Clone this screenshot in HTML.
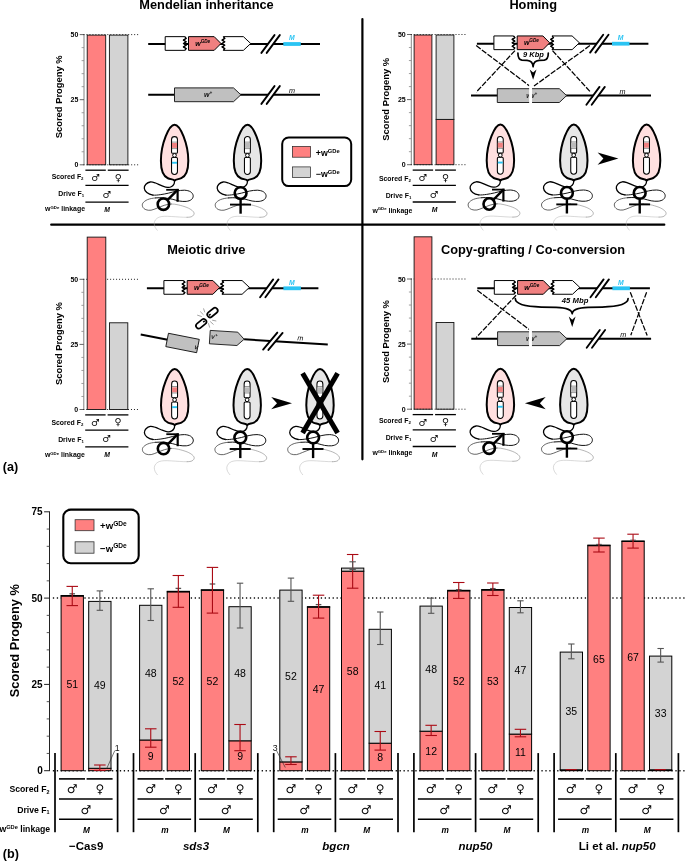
<!DOCTYPE html>
<html lang="en">
<head>
<meta charset="utf-8">
<title>Figure</title>
<style>html,body{margin:0;padding:0;background:#fff;}svg{display:block;will-change:transform;}</style>
</head>
<body>
<svg width="685" height="862" viewBox="0 0 685 862">
<rect x="0" y="0" width="685" height="862" fill="#fff"/>
<line x1="362.4" y1="19.1" x2="362.4" y2="459.3" stroke="#000" stroke-width="2.2" stroke-linecap="round" />
<line x1="51.2" y1="224.7" x2="664.3" y2="224.7" stroke="#000" stroke-width="2.2" stroke-linecap="round" />
<text x="206.5" y="9.3" font-family="'Liberation Sans', sans-serif" font-size="12.8" font-weight="bold" font-style="normal" text-anchor="middle" fill="#000" >Mendelian inheritance</text>
<text x="533.2" y="9.3" font-family="'Liberation Sans', sans-serif" font-size="12.8" font-weight="bold" font-style="normal" text-anchor="middle" fill="#000" >Homing</text>
<text x="206.3" y="254" font-family="'Liberation Sans', sans-serif" font-size="12.8" font-weight="bold" font-style="normal" text-anchor="middle" fill="#000" >Meiotic drive</text>
<text x="533" y="254" font-family="'Liberation Sans', sans-serif" font-size="12.8" font-weight="bold" font-style="normal" text-anchor="middle" fill="#000" >Copy-grafting / Co-conversion</text>
<text x="2.8" y="471" font-family="'Liberation Sans', sans-serif" font-size="12.6" font-weight="bold" font-style="normal" text-anchor="start" fill="#000" >(a)</text>
<text x="2.8" y="858.2" font-family="'Liberation Sans', sans-serif" font-size="12.6" font-weight="bold" font-style="normal" text-anchor="start" fill="#000" >(b)</text>
<line x1="84" y1="34.2" x2="84" y2="165.2" stroke="#777" stroke-width="0.9" stroke-linecap="butt" />
<line x1="79.7" y1="164.8" x2="84" y2="164.8" stroke="#555" stroke-width="0.9" stroke-linecap="butt" />
<line x1="81.6" y1="151.78" x2="84" y2="151.78" stroke="#888" stroke-width="0.8" stroke-linecap="butt" />
<line x1="81.6" y1="138.76" x2="84" y2="138.76" stroke="#888" stroke-width="0.8" stroke-linecap="butt" />
<line x1="81.6" y1="125.74" x2="84" y2="125.74" stroke="#888" stroke-width="0.8" stroke-linecap="butt" />
<line x1="81.6" y1="112.72" x2="84" y2="112.72" stroke="#888" stroke-width="0.8" stroke-linecap="butt" />
<line x1="79.7" y1="99.7" x2="84" y2="99.7" stroke="#555" stroke-width="0.9" stroke-linecap="butt" />
<line x1="81.6" y1="86.68" x2="84" y2="86.68" stroke="#888" stroke-width="0.8" stroke-linecap="butt" />
<line x1="81.6" y1="73.66" x2="84" y2="73.66" stroke="#888" stroke-width="0.8" stroke-linecap="butt" />
<line x1="81.6" y1="60.64" x2="84" y2="60.64" stroke="#888" stroke-width="0.8" stroke-linecap="butt" />
<line x1="81.6" y1="47.62" x2="84" y2="47.62" stroke="#888" stroke-width="0.8" stroke-linecap="butt" />
<line x1="79.7" y1="34.6" x2="84" y2="34.6" stroke="#555" stroke-width="0.9" stroke-linecap="butt" />
<text x="78.4" y="167.3" font-family="'Liberation Sans', sans-serif" font-size="7" font-weight="bold" font-style="normal" text-anchor="end" fill="#000" >0</text>
<text x="78.4" y="102.2" font-family="'Liberation Sans', sans-serif" font-size="7" font-weight="bold" font-style="normal" text-anchor="end" fill="#000" >25</text>
<text x="78.4" y="37.1" font-family="'Liberation Sans', sans-serif" font-size="7" font-weight="bold" font-style="normal" text-anchor="end" fill="#000" >50</text>
<text transform="translate(61.8,96.8) rotate(-90)" font-family="'Liberation Sans', sans-serif" font-size="9.4" font-weight="bold" text-anchor="middle">Scored Progeny %</text>
<line x1="83.5" y1="34.6" x2="138.4" y2="34.6" stroke="#222" stroke-width="1" stroke-linecap="butt" stroke-dasharray="1.0 1.98"/>
<rect x="87.2" y="35.12" width="18.5" height="129.68" fill="#FF8080" stroke="#111" stroke-width="0.9" />
<rect x="109.4" y="35.12" width="18.5" height="129.68" fill="#D3D3D3" stroke="#111" stroke-width="0.9" />
<line x1="83.5" y1="164.8" x2="138.4" y2="164.8" stroke="#222" stroke-width="1" stroke-linecap="butt" stroke-dasharray="1.0 1.98"/>
<line x1="85.4" y1="170.2" x2="105.8" y2="170.2" stroke="#000" stroke-width="1.3" stroke-linecap="butt" />
<line x1="107.8" y1="170.2" x2="128.6" y2="170.2" stroke="#000" stroke-width="1.3" stroke-linecap="butt" />
<line x1="85.4" y1="185.4" x2="128.6" y2="185.4" stroke="#000" stroke-width="1.3" stroke-linecap="butt" />
<line x1="85.4" y1="202.1" x2="128.6" y2="202.1" stroke="#000" stroke-width="1.3" stroke-linecap="butt" />
<text x="83.5" y="179.1" font-family="'Liberation Sans', sans-serif" font-size="6.9" font-weight="bold" text-anchor="end">Scored F<tspan font-size="4.3" dy="1.1">2</tspan></text>
<text x="84.1" y="195.6" font-family="'Liberation Sans', sans-serif" font-size="6.9" font-weight="bold" text-anchor="end">Drive F<tspan font-size="4.3" dy="1.1">1</tspan></text>
<text x="85" y="211.2" font-family="'Liberation Sans', sans-serif" font-size="6.9" font-weight="bold" text-anchor="end">w<tspan font-size="4.3" dy="-2.7">GDe</tspan><tspan dy="2.7"> linkage</tspan></text>
<text x="95.5" y="181.1" font-family="'DejaVu Sans', 'Liberation Sans', sans-serif" font-size="9.6" font-weight="normal" font-style="normal" text-anchor="middle" fill="#000" >♂</text>
<text x="118.2" y="180.7" font-family="'DejaVu Sans', 'Liberation Sans', sans-serif" font-size="9.6" font-weight="normal" font-style="normal" text-anchor="middle" fill="#000" >♀</text>
<text x="106.8" y="197.6" font-family="'DejaVu Sans', 'Liberation Sans', sans-serif" font-size="9.6" font-weight="normal" font-style="normal" text-anchor="middle" fill="#000" >♂</text>
<text x="107.2" y="212.4" font-family="'Liberation Sans', sans-serif" font-size="6.8" font-weight="bold" font-style="italic" text-anchor="middle" fill="#000" >M</text>
<line x1="411.3" y1="34.1" x2="411.3" y2="165.1" stroke="#777" stroke-width="0.9" stroke-linecap="butt" />
<line x1="407" y1="164.7" x2="411.3" y2="164.7" stroke="#555" stroke-width="0.9" stroke-linecap="butt" />
<line x1="408.9" y1="151.68" x2="411.3" y2="151.68" stroke="#888" stroke-width="0.8" stroke-linecap="butt" />
<line x1="408.9" y1="138.66" x2="411.3" y2="138.66" stroke="#888" stroke-width="0.8" stroke-linecap="butt" />
<line x1="408.9" y1="125.64" x2="411.3" y2="125.64" stroke="#888" stroke-width="0.8" stroke-linecap="butt" />
<line x1="408.9" y1="112.62" x2="411.3" y2="112.62" stroke="#888" stroke-width="0.8" stroke-linecap="butt" />
<line x1="407" y1="99.6" x2="411.3" y2="99.6" stroke="#555" stroke-width="0.9" stroke-linecap="butt" />
<line x1="408.9" y1="86.58" x2="411.3" y2="86.58" stroke="#888" stroke-width="0.8" stroke-linecap="butt" />
<line x1="408.9" y1="73.56" x2="411.3" y2="73.56" stroke="#888" stroke-width="0.8" stroke-linecap="butt" />
<line x1="408.9" y1="60.54" x2="411.3" y2="60.54" stroke="#888" stroke-width="0.8" stroke-linecap="butt" />
<line x1="408.9" y1="47.52" x2="411.3" y2="47.52" stroke="#888" stroke-width="0.8" stroke-linecap="butt" />
<line x1="407" y1="34.5" x2="411.3" y2="34.5" stroke="#555" stroke-width="0.9" stroke-linecap="butt" />
<text x="405.7" y="167.2" font-family="'Liberation Sans', sans-serif" font-size="7" font-weight="bold" font-style="normal" text-anchor="end" fill="#000" >0</text>
<text x="405.7" y="102.1" font-family="'Liberation Sans', sans-serif" font-size="7" font-weight="bold" font-style="normal" text-anchor="end" fill="#000" >25</text>
<text x="405.7" y="37" font-family="'Liberation Sans', sans-serif" font-size="7" font-weight="bold" font-style="normal" text-anchor="end" fill="#000" >50</text>
<text transform="translate(388.7,99.3) rotate(-90)" font-family="'Liberation Sans', sans-serif" font-size="9.4" font-weight="bold" text-anchor="middle">Scored Progeny %</text>
<line x1="410.8" y1="34.5" x2="465.7" y2="34.5" stroke="#222" stroke-width="1" stroke-linecap="butt" stroke-dasharray="1.0 1.98"/>
<rect x="414.1" y="35.02" width="17.8" height="129.68" fill="#FF8080" stroke="#111" stroke-width="0.9" />
<rect x="436.1" y="119.39" width="17.8" height="45.31" fill="#FF8080" stroke="#111" stroke-width="0.9" />
<rect x="436.1" y="35.02" width="17.8" height="84.37" fill="#D3D3D3" stroke="#111" stroke-width="0.9" />
<line x1="410.8" y1="164.7" x2="465.7" y2="164.7" stroke="#222" stroke-width="1" stroke-linecap="butt" stroke-dasharray="1.0 1.98"/>
<line x1="412.7" y1="170.1" x2="433.1" y2="170.1" stroke="#000" stroke-width="1.3" stroke-linecap="butt" />
<line x1="435.1" y1="170.1" x2="455.9" y2="170.1" stroke="#000" stroke-width="1.3" stroke-linecap="butt" />
<line x1="412.7" y1="185.3" x2="455.9" y2="185.3" stroke="#000" stroke-width="1.3" stroke-linecap="butt" />
<line x1="412.7" y1="202" x2="455.9" y2="202" stroke="#000" stroke-width="1.3" stroke-linecap="butt" />
<text x="410.8" y="181" font-family="'Liberation Sans', sans-serif" font-size="6.9" font-weight="bold" text-anchor="end">Scored F<tspan font-size="4.3" dy="1.1">2</tspan></text>
<text x="411.4" y="197.5" font-family="'Liberation Sans', sans-serif" font-size="6.9" font-weight="bold" text-anchor="end">Drive F<tspan font-size="4.3" dy="1.1">1</tspan></text>
<text x="412.3" y="213.1" font-family="'Liberation Sans', sans-serif" font-size="6.9" font-weight="bold" text-anchor="end">w<tspan font-size="4.3" dy="-2.7">GDe</tspan><tspan dy="2.7"> linkage</tspan></text>
<text x="422.8" y="181" font-family="'DejaVu Sans', 'Liberation Sans', sans-serif" font-size="9.6" font-weight="normal" font-style="normal" text-anchor="middle" fill="#000" >♂</text>
<text x="445.5" y="180.6" font-family="'DejaVu Sans', 'Liberation Sans', sans-serif" font-size="9.6" font-weight="normal" font-style="normal" text-anchor="middle" fill="#000" >♀</text>
<text x="434.1" y="197.5" font-family="'DejaVu Sans', 'Liberation Sans', sans-serif" font-size="9.6" font-weight="normal" font-style="normal" text-anchor="middle" fill="#000" >♂</text>
<text x="434.5" y="212.3" font-family="'Liberation Sans', sans-serif" font-size="6.8" font-weight="bold" font-style="italic" text-anchor="middle" fill="#000" >M</text>
<line x1="83.8" y1="278.9" x2="83.8" y2="409.9" stroke="#777" stroke-width="0.9" stroke-linecap="butt" />
<line x1="79.5" y1="409.5" x2="83.8" y2="409.5" stroke="#555" stroke-width="0.9" stroke-linecap="butt" />
<line x1="81.4" y1="396.48" x2="83.8" y2="396.48" stroke="#888" stroke-width="0.8" stroke-linecap="butt" />
<line x1="81.4" y1="383.46" x2="83.8" y2="383.46" stroke="#888" stroke-width="0.8" stroke-linecap="butt" />
<line x1="81.4" y1="370.44" x2="83.8" y2="370.44" stroke="#888" stroke-width="0.8" stroke-linecap="butt" />
<line x1="81.4" y1="357.42" x2="83.8" y2="357.42" stroke="#888" stroke-width="0.8" stroke-linecap="butt" />
<line x1="79.5" y1="344.4" x2="83.8" y2="344.4" stroke="#555" stroke-width="0.9" stroke-linecap="butt" />
<line x1="81.4" y1="331.38" x2="83.8" y2="331.38" stroke="#888" stroke-width="0.8" stroke-linecap="butt" />
<line x1="81.4" y1="318.36" x2="83.8" y2="318.36" stroke="#888" stroke-width="0.8" stroke-linecap="butt" />
<line x1="81.4" y1="305.34" x2="83.8" y2="305.34" stroke="#888" stroke-width="0.8" stroke-linecap="butt" />
<line x1="81.4" y1="292.32" x2="83.8" y2="292.32" stroke="#888" stroke-width="0.8" stroke-linecap="butt" />
<line x1="79.5" y1="279.3" x2="83.8" y2="279.3" stroke="#555" stroke-width="0.9" stroke-linecap="butt" />
<text x="78.2" y="412" font-family="'Liberation Sans', sans-serif" font-size="7" font-weight="bold" font-style="normal" text-anchor="end" fill="#000" >0</text>
<text x="78.2" y="346.9" font-family="'Liberation Sans', sans-serif" font-size="7" font-weight="bold" font-style="normal" text-anchor="end" fill="#000" >25</text>
<text x="78.2" y="281.8" font-family="'Liberation Sans', sans-serif" font-size="7" font-weight="bold" font-style="normal" text-anchor="end" fill="#000" >50</text>
<text transform="translate(62,343.6) rotate(-90)" font-family="'Liberation Sans', sans-serif" font-size="9.4" font-weight="bold" text-anchor="middle">Scored Progeny %</text>
<line x1="83.3" y1="279.3" x2="138.2" y2="279.3" stroke="#222" stroke-width="1" stroke-linecap="butt" stroke-dasharray="1.0 1.98"/>
<rect x="87.2" y="237.12" width="18.6" height="172.38" fill="#FF8080" stroke="#111" stroke-width="0.9" />
<rect x="109.5" y="322.79" width="18.3" height="86.71" fill="#D3D3D3" stroke="#111" stroke-width="0.9" />
<line x1="83.3" y1="409.5" x2="138.2" y2="409.5" stroke="#222" stroke-width="1" stroke-linecap="butt" stroke-dasharray="1.0 1.98"/>
<line x1="85.2" y1="414.9" x2="105.6" y2="414.9" stroke="#000" stroke-width="1.3" stroke-linecap="butt" />
<line x1="107.6" y1="414.9" x2="128.4" y2="414.9" stroke="#000" stroke-width="1.3" stroke-linecap="butt" />
<line x1="85.2" y1="430.1" x2="128.4" y2="430.1" stroke="#000" stroke-width="1.3" stroke-linecap="butt" />
<line x1="85.2" y1="446.8" x2="128.4" y2="446.8" stroke="#000" stroke-width="1.3" stroke-linecap="butt" />
<text x="83.3" y="425.2" font-family="'Liberation Sans', sans-serif" font-size="6.9" font-weight="bold" text-anchor="end">Scored F<tspan font-size="4.3" dy="1.1">2</tspan></text>
<text x="83.9" y="441.7" font-family="'Liberation Sans', sans-serif" font-size="6.9" font-weight="bold" text-anchor="end">Drive F<tspan font-size="4.3" dy="1.1">1</tspan></text>
<text x="84.8" y="457.3" font-family="'Liberation Sans', sans-serif" font-size="6.9" font-weight="bold" text-anchor="end">w<tspan font-size="4.3" dy="-2.7">GDe</tspan><tspan dy="2.7"> linkage</tspan></text>
<text x="95.3" y="425.8" font-family="'DejaVu Sans', 'Liberation Sans', sans-serif" font-size="9.6" font-weight="normal" font-style="normal" text-anchor="middle" fill="#000" >♂</text>
<text x="118" y="425.4" font-family="'DejaVu Sans', 'Liberation Sans', sans-serif" font-size="9.6" font-weight="normal" font-style="normal" text-anchor="middle" fill="#000" >♀</text>
<text x="106.6" y="442.3" font-family="'DejaVu Sans', 'Liberation Sans', sans-serif" font-size="9.6" font-weight="normal" font-style="normal" text-anchor="middle" fill="#000" >♂</text>
<text x="107" y="457.1" font-family="'Liberation Sans', sans-serif" font-size="6.8" font-weight="bold" font-style="italic" text-anchor="middle" fill="#000" >M</text>
<line x1="411.3" y1="278.6" x2="411.3" y2="409.6" stroke="#777" stroke-width="0.9" stroke-linecap="butt" />
<line x1="407" y1="409.2" x2="411.3" y2="409.2" stroke="#555" stroke-width="0.9" stroke-linecap="butt" />
<line x1="408.9" y1="396.18" x2="411.3" y2="396.18" stroke="#888" stroke-width="0.8" stroke-linecap="butt" />
<line x1="408.9" y1="383.16" x2="411.3" y2="383.16" stroke="#888" stroke-width="0.8" stroke-linecap="butt" />
<line x1="408.9" y1="370.14" x2="411.3" y2="370.14" stroke="#888" stroke-width="0.8" stroke-linecap="butt" />
<line x1="408.9" y1="357.12" x2="411.3" y2="357.12" stroke="#888" stroke-width="0.8" stroke-linecap="butt" />
<line x1="407" y1="344.1" x2="411.3" y2="344.1" stroke="#555" stroke-width="0.9" stroke-linecap="butt" />
<line x1="408.9" y1="331.08" x2="411.3" y2="331.08" stroke="#888" stroke-width="0.8" stroke-linecap="butt" />
<line x1="408.9" y1="318.06" x2="411.3" y2="318.06" stroke="#888" stroke-width="0.8" stroke-linecap="butt" />
<line x1="408.9" y1="305.04" x2="411.3" y2="305.04" stroke="#888" stroke-width="0.8" stroke-linecap="butt" />
<line x1="408.9" y1="292.02" x2="411.3" y2="292.02" stroke="#888" stroke-width="0.8" stroke-linecap="butt" />
<line x1="407" y1="279" x2="411.3" y2="279" stroke="#555" stroke-width="0.9" stroke-linecap="butt" />
<text x="405.7" y="411.7" font-family="'Liberation Sans', sans-serif" font-size="7" font-weight="bold" font-style="normal" text-anchor="end" fill="#000" >0</text>
<text x="405.7" y="346.6" font-family="'Liberation Sans', sans-serif" font-size="7" font-weight="bold" font-style="normal" text-anchor="end" fill="#000" >25</text>
<text x="405.7" y="281.5" font-family="'Liberation Sans', sans-serif" font-size="7" font-weight="bold" font-style="normal" text-anchor="end" fill="#000" >50</text>
<text transform="translate(388.5,341.5) rotate(-90)" font-family="'Liberation Sans', sans-serif" font-size="9.4" font-weight="bold" text-anchor="middle">Scored Progeny %</text>
<line x1="410.8" y1="279" x2="465.7" y2="279" stroke="#222" stroke-width="1" stroke-linecap="butt" stroke-dasharray="1.0 1.98"/>
<rect x="414.1" y="236.82" width="17.8" height="172.38" fill="#FF8080" stroke="#111" stroke-width="0.9" />
<rect x="436.1" y="322.49" width="17.8" height="86.71" fill="#D3D3D3" stroke="#111" stroke-width="0.9" />
<line x1="410.8" y1="409.2" x2="465.7" y2="409.2" stroke="#222" stroke-width="1" stroke-linecap="butt" stroke-dasharray="1.0 1.98"/>
<line x1="412.7" y1="414.6" x2="433.1" y2="414.6" stroke="#000" stroke-width="1.3" stroke-linecap="butt" />
<line x1="435.1" y1="414.6" x2="455.9" y2="414.6" stroke="#000" stroke-width="1.3" stroke-linecap="butt" />
<line x1="412.7" y1="429.8" x2="455.9" y2="429.8" stroke="#000" stroke-width="1.3" stroke-linecap="butt" />
<line x1="412.7" y1="446.5" x2="455.9" y2="446.5" stroke="#000" stroke-width="1.3" stroke-linecap="butt" />
<text x="410.8" y="423.1" font-family="'Liberation Sans', sans-serif" font-size="6.9" font-weight="bold" text-anchor="end">Scored F<tspan font-size="4.3" dy="1.1">2</tspan></text>
<text x="411.4" y="439.6" font-family="'Liberation Sans', sans-serif" font-size="6.9" font-weight="bold" text-anchor="end">Drive F<tspan font-size="4.3" dy="1.1">1</tspan></text>
<text x="412.3" y="455.2" font-family="'Liberation Sans', sans-serif" font-size="6.9" font-weight="bold" text-anchor="end">w<tspan font-size="4.3" dy="-2.7">GDe</tspan><tspan dy="2.7"> linkage</tspan></text>
<text x="422.8" y="425.5" font-family="'DejaVu Sans', 'Liberation Sans', sans-serif" font-size="9.6" font-weight="normal" font-style="normal" text-anchor="middle" fill="#000" >♂</text>
<text x="445.5" y="425.1" font-family="'DejaVu Sans', 'Liberation Sans', sans-serif" font-size="9.6" font-weight="normal" font-style="normal" text-anchor="middle" fill="#000" >♀</text>
<text x="434.1" y="442" font-family="'DejaVu Sans', 'Liberation Sans', sans-serif" font-size="9.6" font-weight="normal" font-style="normal" text-anchor="middle" fill="#000" >♂</text>
<text x="434.5" y="456.8" font-family="'Liberation Sans', sans-serif" font-size="6.8" font-weight="bold" font-style="italic" text-anchor="middle" fill="#000" >M</text>
<line x1="148.2" y1="44" x2="320" y2="44" stroke="#000" stroke-width="2" stroke-linecap="butt" />
<path d="M165.2,36.65 L184.8,36.65 L186.2,38.36 L183.4,40.08 L186.2,41.79 L183.4,43.5 L186.2,45.21 L183.4,46.92 L186.2,48.64 L184.8,50.35 L165.2,50.35 Z" fill="#fff" stroke="#000" stroke-width="1" stroke-linejoin="miter"/>
<path d="M184.8,36.65 L186.2,38.36 L183.4,40.08 L186.2,41.79 L183.4,43.5 L186.2,45.21 L183.4,46.92 L186.2,48.64 L184.8,50.35" fill="none" stroke="#000" stroke-width="1.3" stroke-linejoin="round"/>
<path d="M188.5,36.65 L214.2,36.65 L221,43.5 L214.2,50.35 L188.5,50.35 Z" fill="#F08080" stroke="#000" stroke-width="1" />
<path d="M243.4,36.65 L250.7,43.5 L243.4,50.35 L223.4,50.35 L224.8,48.64 L222,46.92 L224.8,45.21 L222,43.5 L224.8,41.79 L222,40.08 L224.8,38.36 L223.4,36.65 Z" fill="#fff" stroke="#000" stroke-width="1" />
<path d="M223.4,50.35 L224.8,48.64 L222,46.92 L224.8,45.21 L222,43.5 L224.8,41.79 L222,40.08 L224.8,38.36 L223.4,36.65" fill="none" stroke="#000" stroke-width="1.3" stroke-linejoin="round"/>
<text x="195.2" y="45.7" font-family="'Liberation Sans', sans-serif" font-size="7" font-weight="bold" font-style="italic" text-anchor="start" fill="#000">w<tspan font-size="4.62" dy="-2.94">GDe</tspan></text>
<polygon points="261.4,52.9 274.5,35.1 279.8,35.1 266.7,52.9" fill="#fff"/>
<line x1="261.4" y1="52.9" x2="274.5" y2="35.1" stroke="#000" stroke-width="1.9" stroke-linecap="round" />
<line x1="266.7" y1="52.9" x2="279.8" y2="35.1" stroke="#000" stroke-width="1.9" stroke-linecap="round" />
<line x1="283.3" y1="44" x2="300.8" y2="44" stroke="#2BC4F3" stroke-width="3.8" stroke-linecap="butt" />
<text x="291.8" y="40.4" font-family="'Liberation Sans', sans-serif" font-size="6.8" font-weight="bold" font-style="italic" text-anchor="middle" fill="#2BC4F3" >M</text>
<line x1="148.2" y1="94.8" x2="320" y2="94.8" stroke="#000" stroke-width="2" stroke-linecap="butt" />
<path d="M174.5,87.9 L233.5,87.9 L240.9,94.8 L233.5,101.7 L174.5,101.7 Z" fill="#C0C0C0" stroke="#222" stroke-width="1" />
<text x="204.1" y="97.1" font-family="'Liberation Sans', sans-serif" font-size="7" font-weight="bold" font-style="italic" text-anchor="start" fill="#111">w<tspan font-size="4.6" dy="-2.8">+</tspan></text>
<polygon points="261.4,103.9 274.5,86.1 279.8,86.1 266.7,103.9" fill="#fff"/>
<line x1="261.4" y1="103.9" x2="274.5" y2="86.1" stroke="#000" stroke-width="1.9" stroke-linecap="round" />
<line x1="266.7" y1="103.9" x2="279.8" y2="86.1" stroke="#000" stroke-width="1.9" stroke-linecap="round" />
<text x="292" y="92.8" font-family="'Liberation Sans', sans-serif" font-size="7.2" font-weight="normal" font-style="italic" text-anchor="middle" fill="#000" >m</text>
<path d="M174.6,180.9 C174.5,181.42 174.48,183.07 174,184 C173.52,184.93 172.73,185.93 171.7,186.5 C170.67,187.07 169.48,187.55 167.8,187.4 C166.12,187.25 163.65,186.33 161.6,185.6 C159.55,184.87 157.38,183.6 155.5,183 C153.62,182.4 151.9,181.78 150.3,182 C148.7,182.22 146.9,183.25 145.9,184.3 C144.9,185.35 144.15,186.92 144.3,188.3 C144.45,189.68 145.37,191.47 146.8,192.6 C148.23,193.73 150.57,194.77 152.9,195.1" fill="none" stroke="#000" stroke-width="1.3" stroke-linecap="round"/>
<path d="M152.9,195.1 C155.23,195.43 158.17,194.93 160.8,194.6 C163.43,194.27 166.08,193.68 168.7,193.1 C171.32,192.52 173.88,191.58 176.5,191.1 C179.12,190.62 182.05,190.08 184.4,190.2 C186.75,190.32 189.13,190.88 190.6,191.8 C192.07,192.72 193.07,194.4 193.2,195.7 C193.33,197 192.57,198.65 191.4,199.6 C190.23,200.55 188.23,201.17 186.2,201.4 C184.17,201.63 181.53,201.37 179.2,201 C176.87,200.63 174.68,199.72 172.2,199.2 C169.72,198.68 167.08,198.12 164.3,197.9 C161.52,197.68 158.28,197.62 155.5,197.9" fill="none" stroke="#111" stroke-width="1" stroke-linecap="round"/>
<path d="M155.5,197.9 C152.72,198.18 149.72,198.72 147.6,199.6 C145.48,200.48 143.6,201.95 142.8,203.2 C142,204.45 142.28,206.02 142.8,207.1 C143.32,208.18 144.52,209.18 145.9,209.7 C147.28,210.22 149.2,210.48 151.1,210.2 C153,209.92 155.1,208.82 157.3,208 C159.5,207.18 161.97,205.97 164.3,205.3 C166.63,204.63 168.97,204.07 171.3,204" fill="none" stroke="#333" stroke-width="0.75" stroke-linecap="round"/>
<path d="M171.3,204 C173.63,203.93 175.68,204.32 178.3,204.9 C180.92,205.48 184.67,206.55 187,207.5 C189.33,208.45 191.12,209.57 192.3,210.6 C193.48,211.63 194.17,212.72 194.1,213.7 C194.03,214.68 193.08,215.9 191.9,216.5 C190.72,217.1 189.12,217.22 187,217.3" fill="none" stroke="#777" stroke-width="0.55" stroke-linecap="round"/>
<path d="M187,217.3 C184.88,217.38 181.82,217.13 179.2,217 C176.58,216.87 173.78,216.62 171.3,216.5 C168.82,216.38 166.35,216.18 164.3,216.3 C162.25,216.42 160.47,216.62 159,217.2 C157.53,217.78 156.3,218.78 155.5,219.8 C154.7,220.82 154.27,222.07 154.2,223.3 C154.13,224.53 154.58,226.03 155.1,227.2 C155.62,228.37 156.93,229.78 157.3,230.3" fill="none" stroke="#aaa" stroke-width="0.45" stroke-linecap="round"/>
<path d="M174.6,124.7 C180.19,124.7 188.3,143.94 188.3,160.78 C188.3,169.92 186.72,175.89 181.31,178.2 C178.51,179.35 175.9,179.16 174.6,180.7 C173.3,179.16 170.69,179.35 167.89,178.2 C162.48,175.89 160.9,169.92 160.9,160.78 C160.9,143.94 169.01,124.7 174.6,124.7 Z" fill="#FFE0E0" stroke="#000" stroke-width="2" stroke-linejoin="round"/>
<path d="M171.55,139.55 A2.95,2.95 0 0 1 177.45,139.55 L177.45,152.2 Q177.45,153.3 176.35,153.3 L172.65,153.3 Q171.55,153.3 171.55,152.2 Z" fill="#fff" stroke="#000" stroke-width="1.05" />
<path d="M171.55,171.55 A2.95,2.95 0 0 0 177.45,171.55 L177.45,158.6 Q177.45,157.5 176.35,157.5 L172.65,157.5 Q171.55,157.5 171.55,158.6 Z" fill="#fff" stroke="#000" stroke-width="1.05" />
<circle cx="174.5" cy="155.4" r="1.85" fill="#fff" stroke="#000" stroke-width="1.0"/>
<rect x="172" y="142.9" width="5" height="5" fill="#F08080"/>
<rect x="172" y="161.8" width="5" height="1.9" fill="#2BC4F3"/>
<line x1="171.95" y1="142.1" x2="177.05" y2="142.1" stroke="#333" stroke-width="0.5" stroke-linecap="butt" />
<line x1="171.95" y1="148.6" x2="177.05" y2="148.6" stroke="#333" stroke-width="0.5" stroke-linecap="butt" />
<circle cx="163.4" cy="204.2" r="5.7" fill="none" stroke="#000" stroke-width="2.6"/>
<line x1="167.4" y1="200.2" x2="177.1" y2="190.3" stroke="#000" stroke-width="2.4" stroke-linecap="butt" />
<line x1="166.2" y1="189.8" x2="178.7" y2="189.8" stroke="#000" stroke-width="1.8" stroke-linecap="butt" />
<line x1="177.6" y1="188.9" x2="177.6" y2="201.8" stroke="#000" stroke-width="2.2" stroke-linecap="butt" />
<path d="M247.5,180.9 C247.4,181.42 247.38,183.07 246.9,184 C246.42,184.93 245.63,185.93 244.6,186.5 C243.57,187.07 242.38,187.55 240.7,187.4 C239.02,187.25 236.55,186.33 234.5,185.6 C232.45,184.87 230.28,183.6 228.4,183 C226.52,182.4 224.8,181.78 223.2,182 C221.6,182.22 219.8,183.25 218.8,184.3 C217.8,185.35 217.05,186.92 217.2,188.3 C217.35,189.68 218.27,191.47 219.7,192.6 C221.13,193.73 223.47,194.77 225.8,195.1" fill="none" stroke="#000" stroke-width="1.3" stroke-linecap="round"/>
<path d="M225.8,195.1 C228.13,195.43 231.07,194.93 233.7,194.6 C236.33,194.27 238.98,193.68 241.6,193.1 C244.22,192.52 246.78,191.58 249.4,191.1 C252.02,190.62 254.95,190.08 257.3,190.2 C259.65,190.32 262.03,190.88 263.5,191.8 C264.97,192.72 265.97,194.4 266.1,195.7 C266.23,197 265.47,198.65 264.3,199.6 C263.13,200.55 261.13,201.17 259.1,201.4 C257.07,201.63 254.43,201.37 252.1,201 C249.77,200.63 247.58,199.72 245.1,199.2 C242.62,198.68 239.98,198.12 237.2,197.9 C234.42,197.68 231.18,197.62 228.4,197.9" fill="none" stroke="#111" stroke-width="1" stroke-linecap="round"/>
<path d="M228.4,197.9 C225.62,198.18 222.62,198.72 220.5,199.6 C218.38,200.48 216.5,201.95 215.7,203.2 C214.9,204.45 215.18,206.02 215.7,207.1 C216.22,208.18 217.42,209.18 218.8,209.7 C220.18,210.22 222.1,210.48 224,210.2 C225.9,209.92 228,208.82 230.2,208 C232.4,207.18 234.87,205.97 237.2,205.3 C239.53,204.63 241.87,204.07 244.2,204" fill="none" stroke="#333" stroke-width="0.75" stroke-linecap="round"/>
<path d="M244.2,204 C246.53,203.93 248.58,204.32 251.2,204.9 C253.82,205.48 257.57,206.55 259.9,207.5 C262.23,208.45 264.02,209.57 265.2,210.6 C266.38,211.63 267.07,212.72 267,213.7 C266.93,214.68 265.98,215.9 264.8,216.5 C263.62,217.1 262.02,217.22 259.9,217.3" fill="none" stroke="#777" stroke-width="0.55" stroke-linecap="round"/>
<path d="M259.9,217.3 C257.78,217.38 254.72,217.13 252.1,217 C249.48,216.87 246.68,216.62 244.2,216.5 C241.72,216.38 239.25,216.18 237.2,216.3 C235.15,216.42 233.37,216.62 231.9,217.2 C230.43,217.78 229.2,218.78 228.4,219.8 C227.6,220.82 227.17,222.07 227.1,223.3 C227.03,224.53 227.48,226.03 228,227.2 C228.52,228.37 229.83,229.78 230.2,230.3" fill="none" stroke="#aaa" stroke-width="0.45" stroke-linecap="round"/>
<path d="M247.5,124.7 C253.09,124.7 261.2,143.94 261.2,160.78 C261.2,169.92 259.62,175.89 254.21,178.2 C251.41,179.35 248.8,179.16 247.5,180.7 C246.2,179.16 243.59,179.35 240.79,178.2 C235.38,175.89 233.8,169.92 233.8,160.78 C233.8,143.94 241.91,124.7 247.5,124.7 Z" fill="#E6E6E6" stroke="#000" stroke-width="2" stroke-linejoin="round"/>
<path d="M244.45,139.55 A2.95,2.95 0 0 1 250.35,139.55 L250.35,152.2 Q250.35,153.3 249.25,153.3 L245.55,153.3 Q244.45,153.3 244.45,152.2 Z" fill="#fff" stroke="#000" stroke-width="1.05" />
<path d="M244.45,171.55 A2.95,2.95 0 0 0 250.35,171.55 L250.35,158.6 Q250.35,157.5 249.25,157.5 L245.55,157.5 Q244.45,157.5 244.45,158.6 Z" fill="#fff" stroke="#000" stroke-width="1.05" />
<circle cx="247.4" cy="155.4" r="1.85" fill="#fff" stroke="#000" stroke-width="1.0"/>
<rect x="244.9" y="142.9" width="5" height="5" fill="#BBBBBB"/>
<line x1="244.85" y1="142.1" x2="249.95" y2="142.1" stroke="#333" stroke-width="0.5" stroke-linecap="butt" />
<line x1="244.85" y1="148.6" x2="249.95" y2="148.6" stroke="#333" stroke-width="0.5" stroke-linecap="butt" />
<circle cx="240.6" cy="193.1" r="5.9" fill="none" stroke="#000" stroke-width="2.6"/>
<line x1="240.6" y1="199.1" x2="240.6" y2="213.7" stroke="#000" stroke-width="2.4" stroke-linecap="butt" />
<line x1="230" y1="204.6" x2="251" y2="204.6" stroke="#000" stroke-width="1.9" stroke-linecap="butt" />
<rect x="282.2" y="137.5" width="69" height="48.6" rx="6.5" ry="6.5" fill="#fff" stroke="#000" stroke-width="2"/>
<rect x="292.4" y="146.4" width="18.2" height="10.8" fill="#FF8080" stroke="#222" stroke-width="0.7" />
<rect x="292.4" y="166.9" width="18.2" height="10.6" fill="#D3D3D3" stroke="#222" stroke-width="0.7" />
<text x="315.8" y="156" font-family="'Liberation Sans', sans-serif" font-size="8.8" font-weight="bold" font-style="normal" text-anchor="start" fill="#000">+w<tspan font-size="5.81" dy="-3.3">GDe</tspan></text>
<text x="315.8" y="176.8" font-family="'Liberation Sans', sans-serif" font-size="8.8" font-weight="bold" font-style="normal" text-anchor="start" fill="#000">−w<tspan font-size="5.81" dy="-3.3">GDe</tspan></text>
<line x1="476.2" y1="45.6" x2="529.6" y2="86" stroke="#000" stroke-width="1.25" stroke-linecap="butt" stroke-dasharray="5.6 1.5"/>
<line x1="515" y1="50.6" x2="476.2" y2="92.2" stroke="#000" stroke-width="1.25" stroke-linecap="butt" stroke-dasharray="5.6 1.5"/>
<line x1="552.5" y1="50.6" x2="590.7" y2="92.2" stroke="#000" stroke-width="1.25" stroke-linecap="butt" stroke-dasharray="5.6 1.5"/>
<line x1="589.9" y1="45.6" x2="534" y2="86" stroke="#000" stroke-width="1.25" stroke-linecap="butt" stroke-dasharray="5.6 1.5"/>
<line x1="476.9" y1="43.7" x2="648.4" y2="43.7" stroke="#000" stroke-width="2" stroke-linecap="butt" />
<path d="M493.9,35.95 L513.5,35.95 L514.9,37.66 L512.1,39.38 L514.9,41.09 L512.1,42.8 L514.9,44.51 L512.1,46.23 L514.9,47.94 L513.5,49.65 L493.9,49.65 Z" fill="#fff" stroke="#000" stroke-width="1" stroke-linejoin="miter"/>
<path d="M513.5,35.95 L514.9,37.66 L512.1,39.38 L514.9,41.09 L512.1,42.8 L514.9,44.51 L512.1,46.23 L514.9,47.94 L513.5,49.65" fill="none" stroke="#000" stroke-width="1.3" stroke-linejoin="round"/>
<path d="M517.2,35.95 L542.9,35.95 L549.7,42.8 L542.9,49.65 L517.2,49.65 Z" fill="#F08080" stroke="#000" stroke-width="1" />
<path d="M572.1,35.95 L579.4,42.8 L572.1,49.65 L552.1,49.65 L553.5,47.94 L550.7,46.23 L553.5,44.51 L550.7,42.8 L553.5,41.09 L550.7,39.38 L553.5,37.66 L552.1,35.95 Z" fill="#fff" stroke="#000" stroke-width="1" />
<path d="M552.1,49.65 L553.5,47.94 L550.7,46.23 L553.5,44.51 L550.7,42.8 L553.5,41.09 L550.7,39.38 L553.5,37.66 L552.1,35.95" fill="none" stroke="#000" stroke-width="1.3" stroke-linejoin="round"/>
<text x="523.9" y="45" font-family="'Liberation Sans', sans-serif" font-size="7" font-weight="bold" font-style="italic" text-anchor="start" fill="#000">w<tspan font-size="4.62" dy="-2.94">GDe</tspan></text>
<polygon points="590.1,52.6 603.2,34.8 608.5,34.8 595.4,52.6" fill="#fff"/>
<line x1="590.1" y1="52.6" x2="603.2" y2="34.8" stroke="#000" stroke-width="1.9" stroke-linecap="round" />
<line x1="595.4" y1="52.6" x2="608.5" y2="34.8" stroke="#000" stroke-width="1.9" stroke-linecap="round" />
<line x1="612" y1="43.7" x2="629.5" y2="43.7" stroke="#2BC4F3" stroke-width="3.8" stroke-linecap="butt" />
<text x="620.5" y="40.1" font-family="'Liberation Sans', sans-serif" font-size="6.8" font-weight="bold" font-style="italic" text-anchor="middle" fill="#2BC4F3" >M</text>
<line x1="471" y1="95.6" x2="651" y2="95.6" stroke="#000" stroke-width="2" stroke-linecap="butt" />
<path d="M497.3,88.7 L559.3,88.7 L566.6,95.6 L559.3,102.5 L497.3,102.5 Z" fill="#C0C0C0" stroke="#222" stroke-width="1" />
<clipPath id="cl1a"><rect x="499.15" y="83.7" width="30" height="30"/></clipPath>
<clipPath id="cl1b"><rect x="532.05" y="83.7" width="30" height="30"/></clipPath>
<g clip-path="url(#cl1a)"><text x="526.15" y="97.9" font-family="'Liberation Sans', sans-serif" font-size="7" font-weight="bold" font-style="italic" text-anchor="start" fill="#222">w<tspan font-size="4.6" dy="-2.8">+</tspan></text></g>
<g clip-path="url(#cl1b)"><text x="529.05" y="97.9" font-family="'Liberation Sans', sans-serif" font-size="7" font-weight="bold" font-style="italic" text-anchor="start" fill="#222">w<tspan font-size="4.6" dy="-2.8">+</tspan></text></g>
<rect x="529.15" y="84.7" width="2.9" height="22" fill="#fff" stroke="none" stroke-width="0" />
<polygon points="586.4,104.7 599.5,86.9 604.8,86.9 591.7,104.7" fill="#fff"/>
<line x1="586.4" y1="104.7" x2="599.5" y2="86.9" stroke="#000" stroke-width="1.9" stroke-linecap="round" />
<line x1="591.7" y1="104.7" x2="604.8" y2="86.9" stroke="#000" stroke-width="1.9" stroke-linecap="round" />
<text x="622.5" y="93.6" font-family="'Liberation Sans', sans-serif" font-size="7.2" font-weight="normal" font-style="italic" text-anchor="middle" fill="#000" >m</text>
<text x="533.5" y="56.7" font-family="'Liberation Sans', sans-serif" font-size="7.5" font-weight="bold" font-style="italic" text-anchor="middle" fill="#000" >9 Kbp</text>
<path d="M517.9,53 C517.9,57.46 519.1,59.7 521.9,60.05 L527.1,60.35 C531.3,60.7 532.9,62.84 533.1,66.8 C533.3,62.84 534.9,60.7 539.1,60.35 L544.3,60.05 C547.1,59.7 548.3,57.46 548.3,53" fill="none" stroke="#000" stroke-width="1.7" stroke-linecap="round" stroke-linejoin="round"/>
<path d="M533.1,79.8 L529.7,69.4 L533.1,72.6 L536.5,69.4 Z" fill="#000" stroke="none" stroke-width="0" />
<path d="M500.4,180.7 C500.3,181.22 500.28,182.87 499.8,183.8 C499.32,184.73 498.53,185.73 497.5,186.3 C496.47,186.87 495.28,187.35 493.6,187.2 C491.92,187.05 489.45,186.13 487.4,185.4 C485.35,184.67 483.18,183.4 481.3,182.8 C479.42,182.2 477.7,181.58 476.1,181.8 C474.5,182.02 472.7,183.05 471.7,184.1 C470.7,185.15 469.95,186.72 470.1,188.1 C470.25,189.48 471.17,191.27 472.6,192.4 C474.03,193.53 476.37,194.57 478.7,194.9" fill="none" stroke="#000" stroke-width="1.3" stroke-linecap="round"/>
<path d="M478.7,194.9 C481.03,195.23 483.97,194.73 486.6,194.4 C489.23,194.07 491.88,193.48 494.5,192.9 C497.12,192.32 499.68,191.38 502.3,190.9 C504.92,190.42 507.85,189.88 510.2,190 C512.55,190.12 514.93,190.68 516.4,191.6 C517.87,192.52 518.87,194.2 519,195.5 C519.13,196.8 518.37,198.45 517.2,199.4 C516.03,200.35 514.03,200.97 512,201.2 C509.97,201.43 507.33,201.17 505,200.8 C502.67,200.43 500.48,199.52 498,199 C495.52,198.48 492.88,197.92 490.1,197.7 C487.32,197.48 484.08,197.42 481.3,197.7" fill="none" stroke="#111" stroke-width="1" stroke-linecap="round"/>
<path d="M481.3,197.7 C478.52,197.98 475.52,198.52 473.4,199.4 C471.28,200.28 469.4,201.75 468.6,203 C467.8,204.25 468.08,205.82 468.6,206.9 C469.12,207.98 470.32,208.98 471.7,209.5 C473.08,210.02 475,210.28 476.9,210 C478.8,209.72 480.9,208.62 483.1,207.8 C485.3,206.98 487.77,205.77 490.1,205.1 C492.43,204.43 494.77,203.87 497.1,203.8" fill="none" stroke="#333" stroke-width="0.75" stroke-linecap="round"/>
<path d="M497.1,203.8 C499.43,203.73 501.48,204.12 504.1,204.7 C506.72,205.28 510.47,206.35 512.8,207.3 C515.13,208.25 516.92,209.37 518.1,210.4 C519.28,211.43 519.97,212.52 519.9,213.5 C519.83,214.48 518.88,215.7 517.7,216.3 C516.52,216.9 514.92,217.02 512.8,217.1" fill="none" stroke="#777" stroke-width="0.55" stroke-linecap="round"/>
<path d="M512.8,217.1 C510.68,217.18 507.62,216.93 505,216.8 C502.38,216.67 499.58,216.42 497.1,216.3 C494.62,216.18 492.15,215.98 490.1,216.1 C488.05,216.22 486.27,216.42 484.8,217 C483.33,217.58 482.1,218.58 481.3,219.6 C480.5,220.62 480.07,221.87 480,223.1 C479.93,224.33 480.38,225.83 480.9,227 C481.42,228.17 482.73,229.58 483.1,230.1" fill="none" stroke="#aaa" stroke-width="0.45" stroke-linecap="round"/>
<path d="M500.4,124.5 C505.99,124.5 514.1,143.74 514.1,160.58 C514.1,169.72 512.52,175.69 507.11,178 C504.31,179.15 501.7,178.96 500.4,180.5 C499.1,178.96 496.49,179.15 493.69,178 C488.28,175.69 486.7,169.72 486.7,160.58 C486.7,143.74 494.81,124.5 500.4,124.5 Z" fill="#FFE0E0" stroke="#000" stroke-width="2" stroke-linejoin="round"/>
<path d="M497.35,139.35 A2.95,2.95 0 0 1 503.25,139.35 L503.25,152 Q503.25,153.1 502.15,153.1 L498.45,153.1 Q497.35,153.1 497.35,152 Z" fill="#fff" stroke="#000" stroke-width="1.05" />
<path d="M497.35,171.35 A2.95,2.95 0 0 0 503.25,171.35 L503.25,158.4 Q503.25,157.3 502.15,157.3 L498.45,157.3 Q497.35,157.3 497.35,158.4 Z" fill="#fff" stroke="#000" stroke-width="1.05" />
<circle cx="500.3" cy="155.2" r="1.85" fill="#fff" stroke="#000" stroke-width="1.0"/>
<rect x="497.8" y="142.7" width="5" height="5" fill="#F08080"/>
<rect x="497.8" y="161.6" width="5" height="1.9" fill="#2BC4F3"/>
<line x1="497.75" y1="141.9" x2="502.85" y2="141.9" stroke="#333" stroke-width="0.5" stroke-linecap="butt" />
<line x1="497.75" y1="148.4" x2="502.85" y2="148.4" stroke="#333" stroke-width="0.5" stroke-linecap="butt" />
<circle cx="489.2" cy="204" r="5.7" fill="none" stroke="#000" stroke-width="2.6"/>
<line x1="493.2" y1="200" x2="502.9" y2="190.1" stroke="#000" stroke-width="2.4" stroke-linecap="butt" />
<line x1="492" y1="189.6" x2="504.5" y2="189.6" stroke="#000" stroke-width="1.8" stroke-linecap="butt" />
<line x1="503.4" y1="188.7" x2="503.4" y2="201.6" stroke="#000" stroke-width="2.2" stroke-linecap="butt" />
<path d="M573.8,180.7 C573.7,181.22 573.68,182.87 573.2,183.8 C572.72,184.73 571.93,185.73 570.9,186.3 C569.87,186.87 568.68,187.35 567,187.2 C565.32,187.05 562.85,186.13 560.8,185.4 C558.75,184.67 556.58,183.4 554.7,182.8 C552.82,182.2 551.1,181.58 549.5,181.8 C547.9,182.02 546.1,183.05 545.1,184.1 C544.1,185.15 543.35,186.72 543.5,188.1 C543.65,189.48 544.57,191.27 546,192.4 C547.43,193.53 549.77,194.57 552.1,194.9" fill="none" stroke="#000" stroke-width="1.3" stroke-linecap="round"/>
<path d="M552.1,194.9 C554.43,195.23 557.37,194.73 560,194.4 C562.63,194.07 565.28,193.48 567.9,192.9 C570.52,192.32 573.08,191.38 575.7,190.9 C578.32,190.42 581.25,189.88 583.6,190 C585.95,190.12 588.33,190.68 589.8,191.6 C591.27,192.52 592.27,194.2 592.4,195.5 C592.53,196.8 591.77,198.45 590.6,199.4 C589.43,200.35 587.43,200.97 585.4,201.2 C583.37,201.43 580.73,201.17 578.4,200.8 C576.07,200.43 573.88,199.52 571.4,199 C568.92,198.48 566.28,197.92 563.5,197.7 C560.72,197.48 557.48,197.42 554.7,197.7" fill="none" stroke="#111" stroke-width="1" stroke-linecap="round"/>
<path d="M554.7,197.7 C551.92,197.98 548.92,198.52 546.8,199.4 C544.68,200.28 542.8,201.75 542,203 C541.2,204.25 541.48,205.82 542,206.9 C542.52,207.98 543.72,208.98 545.1,209.5 C546.48,210.02 548.4,210.28 550.3,210 C552.2,209.72 554.3,208.62 556.5,207.8 C558.7,206.98 561.17,205.77 563.5,205.1 C565.83,204.43 568.17,203.87 570.5,203.8" fill="none" stroke="#333" stroke-width="0.75" stroke-linecap="round"/>
<path d="M570.5,203.8 C572.83,203.73 574.88,204.12 577.5,204.7 C580.12,205.28 583.87,206.35 586.2,207.3 C588.53,208.25 590.32,209.37 591.5,210.4 C592.68,211.43 593.37,212.52 593.3,213.5 C593.23,214.48 592.28,215.7 591.1,216.3 C589.92,216.9 588.32,217.02 586.2,217.1" fill="none" stroke="#777" stroke-width="0.55" stroke-linecap="round"/>
<path d="M586.2,217.1 C584.08,217.18 581.02,216.93 578.4,216.8 C575.78,216.67 572.98,216.42 570.5,216.3 C568.02,216.18 565.55,215.98 563.5,216.1 C561.45,216.22 559.67,216.42 558.2,217 C556.73,217.58 555.5,218.58 554.7,219.6 C553.9,220.62 553.47,221.87 553.4,223.1 C553.33,224.33 553.78,225.83 554.3,227 C554.82,228.17 556.13,229.58 556.5,230.1" fill="none" stroke="#aaa" stroke-width="0.45" stroke-linecap="round"/>
<path d="M573.8,124.5 C579.39,124.5 587.5,143.74 587.5,160.58 C587.5,169.72 585.92,175.69 580.51,178 C577.71,179.15 575.1,178.96 573.8,180.5 C572.5,178.96 569.89,179.15 567.09,178 C561.68,175.69 560.1,169.72 560.1,160.58 C560.1,143.74 568.21,124.5 573.8,124.5 Z" fill="#E6E6E6" stroke="#000" stroke-width="2" stroke-linejoin="round"/>
<path d="M570.75,139.35 A2.95,2.95 0 0 1 576.65,139.35 L576.65,152 Q576.65,153.1 575.55,153.1 L571.85,153.1 Q570.75,153.1 570.75,152 Z" fill="#fff" stroke="#000" stroke-width="1.05" />
<path d="M570.75,171.35 A2.95,2.95 0 0 0 576.65,171.35 L576.65,158.4 Q576.65,157.3 575.55,157.3 L571.85,157.3 Q570.75,157.3 570.75,158.4 Z" fill="#fff" stroke="#000" stroke-width="1.05" />
<circle cx="573.7" cy="155.2" r="1.85" fill="#fff" stroke="#000" stroke-width="1.0"/>
<rect x="571.2" y="142.7" width="5" height="5" fill="#BBBBBB"/>
<line x1="571.15" y1="141.9" x2="576.25" y2="141.9" stroke="#333" stroke-width="0.5" stroke-linecap="butt" />
<line x1="571.15" y1="148.4" x2="576.25" y2="148.4" stroke="#333" stroke-width="0.5" stroke-linecap="butt" />
<circle cx="566.9" cy="192.9" r="5.9" fill="none" stroke="#000" stroke-width="2.6"/>
<line x1="566.9" y1="198.9" x2="566.9" y2="213.5" stroke="#000" stroke-width="2.4" stroke-linecap="butt" />
<line x1="556.3" y1="204.4" x2="577.3" y2="204.4" stroke="#000" stroke-width="1.9" stroke-linecap="butt" />
<path d="M618.4,158.6 L597.6,152.5 L603.4,158.6 L597.6,164.7 Z" fill="#000" stroke="none" stroke-width="0" />
<path d="M646.6,180.7 C646.5,181.22 646.48,182.87 646,183.8 C645.52,184.73 644.73,185.73 643.7,186.3 C642.67,186.87 641.48,187.35 639.8,187.2 C638.12,187.05 635.65,186.13 633.6,185.4 C631.55,184.67 629.38,183.4 627.5,182.8 C625.62,182.2 623.9,181.58 622.3,181.8 C620.7,182.02 618.9,183.05 617.9,184.1 C616.9,185.15 616.15,186.72 616.3,188.1 C616.45,189.48 617.37,191.27 618.8,192.4 C620.23,193.53 622.57,194.57 624.9,194.9" fill="none" stroke="#000" stroke-width="1.3" stroke-linecap="round"/>
<path d="M624.9,194.9 C627.23,195.23 630.17,194.73 632.8,194.4 C635.43,194.07 638.08,193.48 640.7,192.9 C643.32,192.32 645.88,191.38 648.5,190.9 C651.12,190.42 654.05,189.88 656.4,190 C658.75,190.12 661.13,190.68 662.6,191.6 C664.07,192.52 665.07,194.2 665.2,195.5 C665.33,196.8 664.57,198.45 663.4,199.4 C662.23,200.35 660.23,200.97 658.2,201.2 C656.17,201.43 653.53,201.17 651.2,200.8 C648.87,200.43 646.68,199.52 644.2,199 C641.72,198.48 639.08,197.92 636.3,197.7 C633.52,197.48 630.28,197.42 627.5,197.7" fill="none" stroke="#111" stroke-width="1" stroke-linecap="round"/>
<path d="M627.5,197.7 C624.72,197.98 621.72,198.52 619.6,199.4 C617.48,200.28 615.6,201.75 614.8,203 C614,204.25 614.28,205.82 614.8,206.9 C615.32,207.98 616.52,208.98 617.9,209.5 C619.28,210.02 621.2,210.28 623.1,210 C625,209.72 627.1,208.62 629.3,207.8 C631.5,206.98 633.97,205.77 636.3,205.1 C638.63,204.43 640.97,203.87 643.3,203.8" fill="none" stroke="#333" stroke-width="0.75" stroke-linecap="round"/>
<path d="M643.3,203.8 C645.63,203.73 647.68,204.12 650.3,204.7 C652.92,205.28 656.67,206.35 659,207.3 C661.33,208.25 663.12,209.37 664.3,210.4 C665.48,211.43 666.17,212.52 666.1,213.5 C666.03,214.48 665.08,215.7 663.9,216.3 C662.72,216.9 661.12,217.02 659,217.1" fill="none" stroke="#777" stroke-width="0.55" stroke-linecap="round"/>
<path d="M659,217.1 C656.88,217.18 653.82,216.93 651.2,216.8 C648.58,216.67 645.78,216.42 643.3,216.3 C640.82,216.18 638.35,215.98 636.3,216.1 C634.25,216.22 632.47,216.42 631,217 C629.53,217.58 628.3,218.58 627.5,219.6 C626.7,220.62 626.27,221.87 626.2,223.1 C626.13,224.33 626.58,225.83 627.1,227 C627.62,228.17 628.93,229.58 629.3,230.1" fill="none" stroke="#aaa" stroke-width="0.45" stroke-linecap="round"/>
<path d="M646.6,124.5 C652.19,124.5 660.3,143.74 660.3,160.58 C660.3,169.72 658.72,175.69 653.31,178 C650.51,179.15 647.9,178.96 646.6,180.5 C645.3,178.96 642.69,179.15 639.89,178 C634.48,175.69 632.9,169.72 632.9,160.58 C632.9,143.74 641.01,124.5 646.6,124.5 Z" fill="#FFE0E0" stroke="#000" stroke-width="2" stroke-linejoin="round"/>
<path d="M643.55,139.35 A2.95,2.95 0 0 1 649.45,139.35 L649.45,152 Q649.45,153.1 648.35,153.1 L644.65,153.1 Q643.55,153.1 643.55,152 Z" fill="#fff" stroke="#000" stroke-width="1.05" />
<path d="M643.55,171.35 A2.95,2.95 0 0 0 649.45,171.35 L649.45,158.4 Q649.45,157.3 648.35,157.3 L644.65,157.3 Q643.55,157.3 643.55,158.4 Z" fill="#fff" stroke="#000" stroke-width="1.05" />
<circle cx="646.5" cy="155.2" r="1.85" fill="#fff" stroke="#000" stroke-width="1.0"/>
<rect x="644" y="142.7" width="5" height="5" fill="#F08080"/>
<line x1="643.95" y1="141.9" x2="649.05" y2="141.9" stroke="#333" stroke-width="0.5" stroke-linecap="butt" />
<line x1="643.95" y1="148.4" x2="649.05" y2="148.4" stroke="#333" stroke-width="0.5" stroke-linecap="butt" />
<circle cx="639.7" cy="192.9" r="5.9" fill="none" stroke="#000" stroke-width="2.6"/>
<line x1="639.7" y1="198.9" x2="639.7" y2="213.5" stroke="#000" stroke-width="2.4" stroke-linecap="butt" />
<line x1="629.1" y1="204.4" x2="650.1" y2="204.4" stroke="#000" stroke-width="1.9" stroke-linecap="butt" />
<line x1="146.9" y1="288.3" x2="318.4" y2="288.3" stroke="#000" stroke-width="2" stroke-linecap="butt" />
<path d="M163.9,280.55 L183.5,280.55 L184.9,282.26 L182.1,283.98 L184.9,285.69 L182.1,287.4 L184.9,289.11 L182.1,290.83 L184.9,292.54 L183.5,294.25 L163.9,294.25 Z" fill="#fff" stroke="#000" stroke-width="1" stroke-linejoin="miter"/>
<path d="M183.5,280.55 L184.9,282.26 L182.1,283.98 L184.9,285.69 L182.1,287.4 L184.9,289.11 L182.1,290.83 L184.9,292.54 L183.5,294.25" fill="none" stroke="#000" stroke-width="1.3" stroke-linejoin="round"/>
<path d="M187.2,280.55 L212.9,280.55 L219.7,287.4 L212.9,294.25 L187.2,294.25 Z" fill="#F08080" stroke="#000" stroke-width="1" />
<path d="M242.1,280.55 L249.4,287.4 L242.1,294.25 L222.1,294.25 L223.5,292.54 L220.7,290.83 L223.5,289.11 L220.7,287.4 L223.5,285.69 L220.7,283.98 L223.5,282.26 L222.1,280.55 Z" fill="#fff" stroke="#000" stroke-width="1" />
<path d="M222.1,294.25 L223.5,292.54 L220.7,290.83 L223.5,289.11 L220.7,287.4 L223.5,285.69 L220.7,283.98 L223.5,282.26 L222.1,280.55" fill="none" stroke="#000" stroke-width="1.3" stroke-linejoin="round"/>
<text x="193.9" y="289.6" font-family="'Liberation Sans', sans-serif" font-size="7" font-weight="bold" font-style="italic" text-anchor="start" fill="#000">w<tspan font-size="4.62" dy="-2.94">GDe</tspan></text>
<polygon points="260.1,297.2 273.2,279.4 278.5,279.4 265.4,297.2" fill="#fff"/>
<line x1="260.1" y1="297.2" x2="273.2" y2="279.4" stroke="#000" stroke-width="1.9" stroke-linecap="round" />
<line x1="265.4" y1="297.2" x2="278.5" y2="279.4" stroke="#000" stroke-width="1.9" stroke-linecap="round" />
<line x1="283.4" y1="288.3" x2="300.9" y2="288.3" stroke="#2BC4F3" stroke-width="3.8" stroke-linecap="butt" />
<text x="291.9" y="284.7" font-family="'Liberation Sans', sans-serif" font-size="6.8" font-weight="bold" font-style="italic" text-anchor="middle" fill="#2BC4F3" >M</text>
<g transform="translate(140.7,334.5) rotate(11.2)">
<line x1="0" y1="0" x2="27.5" y2="0" stroke="#000" stroke-width="2" stroke-linecap="butt" />
<rect x="27" y="-6.6" width="31.4" height="13.6" fill="#C0C0C0" stroke="#000" stroke-width="0.8" />
<text x="57.0" y="3.6" font-family="'Liberation Sans', sans-serif" font-size="6.6" font-weight="bold" font-style="italic" text-anchor="middle" fill="#222">v</text>
</g>
<g transform="translate(209.8,337.1) rotate(3.6)">
<path d="M0,-6.7 L27.6,-6.7 L34.4,0 L27.6,6.7 L0,6.7 Z" fill="#C0C0C0" stroke="#000" stroke-width="0.8" />
<text x="1.4" y="1.6" font-family="'Liberation Sans', sans-serif" font-size="6.6" font-weight="bold" font-style="italic" text-anchor="start" fill="#222">v<tspan font-size="4.4" dy="-2.6">+</tspan></text>
<line x1="34.4" y1="0" x2="118.2" y2="0" stroke="#000" stroke-width="2" stroke-linecap="butt" />
<polygon points="54,9.1 67.1,-8.7 72.4,-8.7 59.3,9.1" fill="#fff"/>
<line x1="54" y1="9.1" x2="67.1" y2="-8.7" stroke="#000" stroke-width="1.9" stroke-linecap="round" />
<line x1="59.3" y1="9.1" x2="72.4" y2="-8.7" stroke="#000" stroke-width="1.9" stroke-linecap="round" />
<text x="90.6" y="-2.4" font-family="'Liberation Sans', sans-serif" font-size="7.2" font-weight="normal" font-style="italic" text-anchor="middle" fill="#000" >m</text>
</g>
<g fill="none" stroke="#000" stroke-width="1.7">
<rect x="-5.9" y="-2.75" width="11.8" height="5.5" rx="2.75" ry="2.75" transform="translate(212.5,312.6) rotate(-39)"/>
<rect x="-5.9" y="-2.75" width="11.8" height="5.5" rx="2.75" ry="2.75" transform="translate(201.2,323.7) rotate(-39)"/>
</g>
<line x1="209" y1="315.4" x2="210.6" y2="314.1" stroke="#000" stroke-width="1.5" stroke-linecap="butt" />
<line x1="204.7" y1="320.9" x2="203.2" y2="322.1" stroke="#000" stroke-width="1.5" stroke-linecap="butt" />
<line x1="197.2" y1="315.1" x2="201.8" y2="316.6" stroke="#666" stroke-width="0.6" stroke-linecap="butt" />
<line x1="200.2" y1="311.5" x2="203.5" y2="314.8" stroke="#666" stroke-width="0.6" stroke-linecap="butt" />
<line x1="203.5" y1="308.4" x2="204.8" y2="312.3" stroke="#666" stroke-width="0.6" stroke-linecap="butt" />
<line x1="212.2" y1="320.2" x2="216.3" y2="321" stroke="#666" stroke-width="0.6" stroke-linecap="butt" />
<line x1="210.2" y1="321.5" x2="213.5" y2="324.5" stroke="#666" stroke-width="0.6" stroke-linecap="butt" />
<line x1="208.4" y1="323.2" x2="209.7" y2="327.6" stroke="#666" stroke-width="0.6" stroke-linecap="butt" />
<path d="M174.7,425.3 C174.6,425.82 174.58,427.47 174.1,428.4 C173.62,429.33 172.83,430.33 171.8,430.9 C170.77,431.47 169.58,431.95 167.9,431.8 C166.22,431.65 163.75,430.73 161.7,430 C159.65,429.27 157.48,428 155.6,427.4 C153.72,426.8 152,426.18 150.4,426.4 C148.8,426.62 147,427.65 146,428.7 C145,429.75 144.25,431.32 144.4,432.7 C144.55,434.08 145.47,435.87 146.9,437 C148.33,438.13 150.67,439.17 153,439.5" fill="none" stroke="#000" stroke-width="1.3" stroke-linecap="round"/>
<path d="M153,439.5 C155.33,439.83 158.27,439.33 160.9,439 C163.53,438.67 166.18,438.08 168.8,437.5 C171.42,436.92 173.98,435.98 176.6,435.5 C179.22,435.02 182.15,434.48 184.5,434.6 C186.85,434.72 189.23,435.28 190.7,436.2 C192.17,437.12 193.17,438.8 193.3,440.1 C193.43,441.4 192.67,443.05 191.5,444 C190.33,444.95 188.33,445.57 186.3,445.8 C184.27,446.03 181.63,445.77 179.3,445.4 C176.97,445.03 174.78,444.12 172.3,443.6 C169.82,443.08 167.18,442.52 164.4,442.3 C161.62,442.08 158.38,442.02 155.6,442.3" fill="none" stroke="#111" stroke-width="1" stroke-linecap="round"/>
<path d="M155.6,442.3 C152.82,442.58 149.82,443.12 147.7,444 C145.58,444.88 143.7,446.35 142.9,447.6 C142.1,448.85 142.38,450.42 142.9,451.5 C143.42,452.58 144.62,453.58 146,454.1 C147.38,454.62 149.3,454.88 151.2,454.6 C153.1,454.32 155.2,453.22 157.4,452.4 C159.6,451.58 162.07,450.37 164.4,449.7 C166.73,449.03 169.07,448.47 171.4,448.4" fill="none" stroke="#333" stroke-width="0.75" stroke-linecap="round"/>
<path d="M171.4,448.4 C173.73,448.33 175.78,448.72 178.4,449.3 C181.02,449.88 184.77,450.95 187.1,451.9 C189.43,452.85 191.22,453.97 192.4,455 C193.58,456.03 194.27,457.12 194.2,458.1 C194.13,459.08 193.18,460.3 192,460.9 C190.82,461.5 189.22,461.62 187.1,461.7" fill="none" stroke="#777" stroke-width="0.55" stroke-linecap="round"/>
<path d="M187.1,461.7 C184.98,461.78 181.92,461.53 179.3,461.4 C176.68,461.27 173.88,461.02 171.4,460.9 C168.92,460.78 166.45,460.58 164.4,460.7 C162.35,460.82 160.57,461.02 159.1,461.6 C157.63,462.18 156.4,463.18 155.6,464.2 C154.8,465.22 154.37,466.47 154.3,467.7 C154.23,468.93 154.68,470.43 155.2,471.6 C155.72,472.77 157.03,474.18 157.4,474.7" fill="none" stroke="#aaa" stroke-width="0.45" stroke-linecap="round"/>
<path d="M174.7,369.1 C180.29,369.1 188.4,388.34 188.4,405.18 C188.4,414.32 186.82,420.29 181.41,422.6 C178.61,423.75 176,423.56 174.7,425.1 C173.4,423.56 170.79,423.75 167.99,422.6 C162.58,420.29 161,414.32 161,405.18 C161,388.34 169.11,369.1 174.7,369.1 Z" fill="#FFE0E0" stroke="#000" stroke-width="2" stroke-linejoin="round"/>
<path d="M171.65,383.95 A2.95,2.95 0 0 1 177.55,383.95 L177.55,396.6 Q177.55,397.7 176.45,397.7 L172.75,397.7 Q171.65,397.7 171.65,396.6 Z" fill="#fff" stroke="#000" stroke-width="1.05" />
<path d="M171.65,415.95 A2.95,2.95 0 0 0 177.55,415.95 L177.55,403 Q177.55,401.9 176.45,401.9 L172.75,401.9 Q171.65,401.9 171.65,403 Z" fill="#fff" stroke="#000" stroke-width="1.05" />
<circle cx="174.6" cy="399.8" r="1.85" fill="#fff" stroke="#000" stroke-width="1.0"/>
<rect x="172.1" y="387.3" width="5" height="5" fill="#F08080"/>
<rect x="172.1" y="406.2" width="5" height="1.9" fill="#2BC4F3"/>
<line x1="172.05" y1="386.5" x2="177.15" y2="386.5" stroke="#333" stroke-width="0.5" stroke-linecap="butt" />
<line x1="172.05" y1="393" x2="177.15" y2="393" stroke="#333" stroke-width="0.5" stroke-linecap="butt" />
<circle cx="163.5" cy="448.6" r="5.7" fill="none" stroke="#000" stroke-width="2.6"/>
<line x1="167.5" y1="444.6" x2="177.2" y2="434.7" stroke="#000" stroke-width="2.4" stroke-linecap="butt" />
<line x1="166.3" y1="434.2" x2="178.8" y2="434.2" stroke="#000" stroke-width="1.8" stroke-linecap="butt" />
<line x1="177.7" y1="433.3" x2="177.7" y2="446.2" stroke="#000" stroke-width="2.2" stroke-linecap="butt" />
<path d="M247.2,425.3 C247.1,425.82 247.08,427.47 246.6,428.4 C246.12,429.33 245.33,430.33 244.3,430.9 C243.27,431.47 242.08,431.95 240.4,431.8 C238.72,431.65 236.25,430.73 234.2,430 C232.15,429.27 229.98,428 228.1,427.4 C226.22,426.8 224.5,426.18 222.9,426.4 C221.3,426.62 219.5,427.65 218.5,428.7 C217.5,429.75 216.75,431.32 216.9,432.7 C217.05,434.08 217.97,435.87 219.4,437 C220.83,438.13 223.17,439.17 225.5,439.5" fill="none" stroke="#000" stroke-width="1.3" stroke-linecap="round"/>
<path d="M225.5,439.5 C227.83,439.83 230.77,439.33 233.4,439 C236.03,438.67 238.68,438.08 241.3,437.5 C243.92,436.92 246.48,435.98 249.1,435.5 C251.72,435.02 254.65,434.48 257,434.6 C259.35,434.72 261.73,435.28 263.2,436.2 C264.67,437.12 265.67,438.8 265.8,440.1 C265.93,441.4 265.17,443.05 264,444 C262.83,444.95 260.83,445.57 258.8,445.8 C256.77,446.03 254.13,445.77 251.8,445.4 C249.47,445.03 247.28,444.12 244.8,443.6 C242.32,443.08 239.68,442.52 236.9,442.3 C234.12,442.08 230.88,442.02 228.1,442.3" fill="none" stroke="#111" stroke-width="1" stroke-linecap="round"/>
<path d="M228.1,442.3 C225.32,442.58 222.32,443.12 220.2,444 C218.08,444.88 216.2,446.35 215.4,447.6 C214.6,448.85 214.88,450.42 215.4,451.5 C215.92,452.58 217.12,453.58 218.5,454.1 C219.88,454.62 221.8,454.88 223.7,454.6 C225.6,454.32 227.7,453.22 229.9,452.4 C232.1,451.58 234.57,450.37 236.9,449.7 C239.23,449.03 241.57,448.47 243.9,448.4" fill="none" stroke="#333" stroke-width="0.75" stroke-linecap="round"/>
<path d="M243.9,448.4 C246.23,448.33 248.28,448.72 250.9,449.3 C253.52,449.88 257.27,450.95 259.6,451.9 C261.93,452.85 263.72,453.97 264.9,455 C266.08,456.03 266.77,457.12 266.7,458.1 C266.63,459.08 265.68,460.3 264.5,460.9 C263.32,461.5 261.72,461.62 259.6,461.7" fill="none" stroke="#777" stroke-width="0.55" stroke-linecap="round"/>
<path d="M259.6,461.7 C257.48,461.78 254.42,461.53 251.8,461.4 C249.18,461.27 246.38,461.02 243.9,460.9 C241.42,460.78 238.95,460.58 236.9,460.7 C234.85,460.82 233.07,461.02 231.6,461.6 C230.13,462.18 228.9,463.18 228.1,464.2 C227.3,465.22 226.87,466.47 226.8,467.7 C226.73,468.93 227.18,470.43 227.7,471.6 C228.22,472.77 229.53,474.18 229.9,474.7" fill="none" stroke="#aaa" stroke-width="0.45" stroke-linecap="round"/>
<path d="M247.2,369.1 C252.79,369.1 260.9,388.34 260.9,405.18 C260.9,414.32 259.32,420.29 253.91,422.6 C251.11,423.75 248.5,423.56 247.2,425.1 C245.9,423.56 243.29,423.75 240.49,422.6 C235.08,420.29 233.5,414.32 233.5,405.18 C233.5,388.34 241.61,369.1 247.2,369.1 Z" fill="#E6E6E6" stroke="#000" stroke-width="2" stroke-linejoin="round"/>
<path d="M244.15,383.95 A2.95,2.95 0 0 1 250.05,383.95 L250.05,396.6 Q250.05,397.7 248.95,397.7 L245.25,397.7 Q244.15,397.7 244.15,396.6 Z" fill="#fff" stroke="#000" stroke-width="1.05" />
<path d="M244.15,415.95 A2.95,2.95 0 0 0 250.05,415.95 L250.05,403 Q250.05,401.9 248.95,401.9 L245.25,401.9 Q244.15,401.9 244.15,403 Z" fill="#fff" stroke="#000" stroke-width="1.05" />
<circle cx="247.1" cy="399.8" r="1.85" fill="#fff" stroke="#000" stroke-width="1.0"/>
<rect x="244.6" y="387.3" width="5" height="5" fill="#BBBBBB"/>
<line x1="244.55" y1="386.5" x2="249.65" y2="386.5" stroke="#333" stroke-width="0.5" stroke-linecap="butt" />
<line x1="244.55" y1="393" x2="249.65" y2="393" stroke="#333" stroke-width="0.5" stroke-linecap="butt" />
<circle cx="240.3" cy="437.5" r="5.9" fill="none" stroke="#000" stroke-width="2.6"/>
<line x1="240.3" y1="443.5" x2="240.3" y2="458.1" stroke="#000" stroke-width="2.4" stroke-linecap="butt" />
<line x1="229.7" y1="449" x2="250.7" y2="449" stroke="#000" stroke-width="1.9" stroke-linecap="butt" />
<path d="M292,403.2 L271.2,397.1 L277,403.2 L271.2,409.3 Z" fill="#000" stroke="none" stroke-width="0" />
<path d="M320,425.3 C319.9,425.82 319.88,427.47 319.4,428.4 C318.92,429.33 318.13,430.33 317.1,430.9 C316.07,431.47 314.88,431.95 313.2,431.8 C311.52,431.65 309.05,430.73 307,430 C304.95,429.27 302.78,428 300.9,427.4 C299.02,426.8 297.3,426.18 295.7,426.4 C294.1,426.62 292.3,427.65 291.3,428.7 C290.3,429.75 289.55,431.32 289.7,432.7 C289.85,434.08 290.77,435.87 292.2,437 C293.63,438.13 295.97,439.17 298.3,439.5" fill="none" stroke="#000" stroke-width="1.3" stroke-linecap="round"/>
<path d="M298.3,439.5 C300.63,439.83 303.57,439.33 306.2,439 C308.83,438.67 311.48,438.08 314.1,437.5 C316.72,436.92 319.28,435.98 321.9,435.5 C324.52,435.02 327.45,434.48 329.8,434.6 C332.15,434.72 334.53,435.28 336,436.2 C337.47,437.12 338.47,438.8 338.6,440.1 C338.73,441.4 337.97,443.05 336.8,444 C335.63,444.95 333.63,445.57 331.6,445.8 C329.57,446.03 326.93,445.77 324.6,445.4 C322.27,445.03 320.08,444.12 317.6,443.6 C315.12,443.08 312.48,442.52 309.7,442.3 C306.92,442.08 303.68,442.02 300.9,442.3" fill="none" stroke="#111" stroke-width="1" stroke-linecap="round"/>
<path d="M300.9,442.3 C298.12,442.58 295.12,443.12 293,444 C290.88,444.88 289,446.35 288.2,447.6 C287.4,448.85 287.68,450.42 288.2,451.5 C288.72,452.58 289.92,453.58 291.3,454.1 C292.68,454.62 294.6,454.88 296.5,454.6 C298.4,454.32 300.5,453.22 302.7,452.4 C304.9,451.58 307.37,450.37 309.7,449.7 C312.03,449.03 314.37,448.47 316.7,448.4" fill="none" stroke="#333" stroke-width="0.75" stroke-linecap="round"/>
<path d="M316.7,448.4 C319.03,448.33 321.08,448.72 323.7,449.3 C326.32,449.88 330.07,450.95 332.4,451.9 C334.73,452.85 336.52,453.97 337.7,455 C338.88,456.03 339.57,457.12 339.5,458.1 C339.43,459.08 338.48,460.3 337.3,460.9 C336.12,461.5 334.52,461.62 332.4,461.7" fill="none" stroke="#777" stroke-width="0.55" stroke-linecap="round"/>
<path d="M332.4,461.7 C330.28,461.78 327.22,461.53 324.6,461.4 C321.98,461.27 319.18,461.02 316.7,460.9 C314.22,460.78 311.75,460.58 309.7,460.7 C307.65,460.82 305.87,461.02 304.4,461.6 C302.93,462.18 301.7,463.18 300.9,464.2 C300.1,465.22 299.67,466.47 299.6,467.7 C299.53,468.93 299.98,470.43 300.5,471.6 C301.02,472.77 302.33,474.18 302.7,474.7" fill="none" stroke="#aaa" stroke-width="0.45" stroke-linecap="round"/>
<path d="M320,369.1 C325.59,369.1 333.7,388.34 333.7,405.18 C333.7,414.32 332.12,420.29 326.71,422.6 C323.91,423.75 321.3,423.56 320,425.1 C318.7,423.56 316.09,423.75 313.29,422.6 C307.88,420.29 306.3,414.32 306.3,405.18 C306.3,388.34 314.41,369.1 320,369.1 Z" fill="#E6E6E6" stroke="#000" stroke-width="2" stroke-linejoin="round"/>
<path d="M316.95,383.95 A2.95,2.95 0 0 1 322.85,383.95 L322.85,396.6 Q322.85,397.7 321.75,397.7 L318.05,397.7 Q316.95,397.7 316.95,396.6 Z" fill="#fff" stroke="#000" stroke-width="1.05" />
<path d="M316.95,415.95 A2.95,2.95 0 0 0 322.85,415.95 L322.85,403 Q322.85,401.9 321.75,401.9 L318.05,401.9 Q316.95,401.9 316.95,403 Z" fill="#fff" stroke="#000" stroke-width="1.05" />
<circle cx="319.9" cy="399.8" r="1.85" fill="#fff" stroke="#000" stroke-width="1.0"/>
<rect x="317.4" y="387.3" width="5" height="5" fill="#BBBBBB"/>
<line x1="317.35" y1="386.5" x2="322.45" y2="386.5" stroke="#333" stroke-width="0.5" stroke-linecap="butt" />
<line x1="317.35" y1="393" x2="322.45" y2="393" stroke="#333" stroke-width="0.5" stroke-linecap="butt" />
<circle cx="313.1" cy="437.5" r="5.9" fill="none" stroke="#000" stroke-width="2.6"/>
<line x1="313.1" y1="443.5" x2="313.1" y2="458.1" stroke="#000" stroke-width="2.4" stroke-linecap="butt" />
<line x1="302.5" y1="449" x2="323.5" y2="449" stroke="#000" stroke-width="1.9" stroke-linecap="butt" />
<line x1="302.6" y1="373.2" x2="337.6" y2="433.1" stroke="#000" stroke-width="5" stroke-linecap="butt" />
<line x1="337.6" y1="373.2" x2="302.6" y2="433.1" stroke="#000" stroke-width="5" stroke-linecap="butt" />
<line x1="477.3" y1="290.3" x2="529.6" y2="329.8" stroke="#000" stroke-width="1.25" stroke-linecap="butt" stroke-dasharray="5.6 1.5"/>
<line x1="516.1" y1="295.3" x2="476.1" y2="337.6" stroke="#000" stroke-width="1.25" stroke-linecap="butt" stroke-dasharray="5.6 1.5"/>
<line x1="630.3" y1="292.3" x2="647.2" y2="335.6" stroke="#000" stroke-width="1.25" stroke-linecap="butt" stroke-dasharray="5.6 1.5"/>
<line x1="646.6" y1="292.3" x2="630.8" y2="335.2" stroke="#000" stroke-width="1.25" stroke-linecap="butt" stroke-dasharray="5.6 1.5"/>
<line x1="477.3" y1="288.3" x2="649.9" y2="288.3" stroke="#000" stroke-width="2" stroke-linecap="butt" />
<path d="M494.3,280.55 L513.9,280.55 L515.3,282.26 L512.5,283.98 L515.3,285.69 L512.5,287.4 L515.3,289.11 L512.5,290.83 L515.3,292.54 L513.9,294.25 L494.3,294.25 Z" fill="#fff" stroke="#000" stroke-width="1" stroke-linejoin="miter"/>
<path d="M513.9,280.55 L515.3,282.26 L512.5,283.98 L515.3,285.69 L512.5,287.4 L515.3,289.11 L512.5,290.83 L515.3,292.54 L513.9,294.25" fill="none" stroke="#000" stroke-width="1.3" stroke-linejoin="round"/>
<path d="M517.6,280.55 L543.3,280.55 L550.1,287.4 L543.3,294.25 L517.6,294.25 Z" fill="#F08080" stroke="#000" stroke-width="1" />
<path d="M572.5,280.55 L579.8,287.4 L572.5,294.25 L552.5,294.25 L553.9,292.54 L551.1,290.83 L553.9,289.11 L551.1,287.4 L553.9,285.69 L551.1,283.98 L553.9,282.26 L552.5,280.55 Z" fill="#fff" stroke="#000" stroke-width="1" />
<path d="M552.5,294.25 L553.9,292.54 L551.1,290.83 L553.9,289.11 L551.1,287.4 L553.9,285.69 L551.1,283.98 L553.9,282.26 L552.5,280.55" fill="none" stroke="#000" stroke-width="1.3" stroke-linejoin="round"/>
<text x="524.3" y="289.6" font-family="'Liberation Sans', sans-serif" font-size="7" font-weight="bold" font-style="italic" text-anchor="start" fill="#000">w<tspan font-size="4.62" dy="-2.94">GDe</tspan></text>
<polygon points="590.5,297.2 603.6,279.4 608.9,279.4 595.8,297.2" fill="#fff"/>
<line x1="590.5" y1="297.2" x2="603.6" y2="279.4" stroke="#000" stroke-width="1.9" stroke-linecap="round" />
<line x1="595.8" y1="297.2" x2="608.9" y2="279.4" stroke="#000" stroke-width="1.9" stroke-linecap="round" />
<line x1="612.4" y1="288.3" x2="629.9" y2="288.3" stroke="#2BC4F3" stroke-width="3.8" stroke-linecap="butt" />
<text x="620.9" y="284.7" font-family="'Liberation Sans', sans-serif" font-size="6.8" font-weight="bold" font-style="italic" text-anchor="middle" fill="#2BC4F3" >M</text>
<line x1="471.3" y1="338.7" x2="651.1" y2="338.7" stroke="#000" stroke-width="2" stroke-linecap="butt" />
<path d="M497.6,331.8 L559.6,331.8 L566.9,338.7 L559.6,345.6 L497.6,345.6 Z" fill="#C0C0C0" stroke="#222" stroke-width="1" />
<clipPath id="cl2a"><rect x="499.05" y="326.8" width="30" height="30"/></clipPath>
<clipPath id="cl2b"><rect x="531.95" y="326.8" width="30" height="30"/></clipPath>
<g clip-path="url(#cl2a)"><text x="526.05" y="341" font-family="'Liberation Sans', sans-serif" font-size="7" font-weight="bold" font-style="italic" text-anchor="start" fill="#222">w<tspan font-size="4.6" dy="-2.8">+</tspan></text></g>
<g clip-path="url(#cl2b)"><text x="528.95" y="341" font-family="'Liberation Sans', sans-serif" font-size="7" font-weight="bold" font-style="italic" text-anchor="start" fill="#222">w<tspan font-size="4.6" dy="-2.8">+</tspan></text></g>
<rect x="529.05" y="327.8" width="2.9" height="22" fill="#fff" stroke="none" stroke-width="0" />
<polygon points="586.7,347.8 599.8,330 605.1,330 592,347.8" fill="#fff"/>
<line x1="586.7" y1="347.8" x2="599.8" y2="330" stroke="#000" stroke-width="1.9" stroke-linecap="round" />
<line x1="592" y1="347.8" x2="605.1" y2="330" stroke="#000" stroke-width="1.9" stroke-linecap="round" />
<text x="623.2" y="336.7" font-family="'Liberation Sans', sans-serif" font-size="7.2" font-weight="normal" font-style="italic" text-anchor="middle" fill="#000" >m</text>
<text x="575.1" y="303" font-family="'Liberation Sans', sans-serif" font-size="7.7" font-weight="bold" font-style="italic" text-anchor="middle" fill="#000" >45 Mbp</text>
<path d="M515.3,298.6 C515.3,303.93 523.1,306.6 541.3,307.05 L556.2,307.35 C567.4,307.7 572,309.84 572.2,313.8 C572.4,309.84 577,307.7 588.2,307.35 L602.1,307.05 C620.3,306.6 628.1,303.93 628.1,298.6" fill="none" stroke="#000" stroke-width="1.7" stroke-linecap="round" stroke-linejoin="round"/>
<path d="M572.2,326.9 L568.8,316.5 L572.2,319.7 L575.6,316.5 Z" fill="#000" stroke="none" stroke-width="0" />
<path d="M500.4,424.9 C500.3,425.42 500.28,427.07 499.8,428 C499.32,428.93 498.53,429.93 497.5,430.5 C496.47,431.07 495.28,431.55 493.6,431.4 C491.92,431.25 489.45,430.33 487.4,429.6 C485.35,428.87 483.18,427.6 481.3,427 C479.42,426.4 477.7,425.78 476.1,426 C474.5,426.22 472.7,427.25 471.7,428.3 C470.7,429.35 469.95,430.92 470.1,432.3 C470.25,433.68 471.17,435.47 472.6,436.6 C474.03,437.73 476.37,438.77 478.7,439.1" fill="none" stroke="#000" stroke-width="1.3" stroke-linecap="round"/>
<path d="M478.7,439.1 C481.03,439.43 483.97,438.93 486.6,438.6 C489.23,438.27 491.88,437.68 494.5,437.1 C497.12,436.52 499.68,435.58 502.3,435.1 C504.92,434.62 507.85,434.08 510.2,434.2 C512.55,434.32 514.93,434.88 516.4,435.8 C517.87,436.72 518.87,438.4 519,439.7 C519.13,441 518.37,442.65 517.2,443.6 C516.03,444.55 514.03,445.17 512,445.4 C509.97,445.63 507.33,445.37 505,445 C502.67,444.63 500.48,443.72 498,443.2 C495.52,442.68 492.88,442.12 490.1,441.9 C487.32,441.68 484.08,441.62 481.3,441.9" fill="none" stroke="#111" stroke-width="1" stroke-linecap="round"/>
<path d="M481.3,441.9 C478.52,442.18 475.52,442.72 473.4,443.6 C471.28,444.48 469.4,445.95 468.6,447.2 C467.8,448.45 468.08,450.02 468.6,451.1 C469.12,452.18 470.32,453.18 471.7,453.7 C473.08,454.22 475,454.48 476.9,454.2 C478.8,453.92 480.9,452.82 483.1,452 C485.3,451.18 487.77,449.97 490.1,449.3 C492.43,448.63 494.77,448.07 497.1,448" fill="none" stroke="#333" stroke-width="0.75" stroke-linecap="round"/>
<path d="M497.1,448 C499.43,447.93 501.48,448.32 504.1,448.9 C506.72,449.48 510.47,450.55 512.8,451.5 C515.13,452.45 516.92,453.57 518.1,454.6 C519.28,455.63 519.97,456.72 519.9,457.7 C519.83,458.68 518.88,459.9 517.7,460.5 C516.52,461.1 514.92,461.22 512.8,461.3" fill="none" stroke="#777" stroke-width="0.55" stroke-linecap="round"/>
<path d="M512.8,461.3 C510.68,461.38 507.62,461.13 505,461 C502.38,460.87 499.58,460.62 497.1,460.5 C494.62,460.38 492.15,460.18 490.1,460.3 C488.05,460.42 486.27,460.62 484.8,461.2 C483.33,461.78 482.1,462.78 481.3,463.8 C480.5,464.82 480.07,466.07 480,467.3 C479.93,468.53 480.38,470.03 480.9,471.2 C481.42,472.37 482.73,473.78 483.1,474.3" fill="none" stroke="#aaa" stroke-width="0.45" stroke-linecap="round"/>
<path d="M500.4,368.7 C505.99,368.7 514.1,387.94 514.1,404.78 C514.1,413.92 512.52,419.89 507.11,422.2 C504.31,423.35 501.7,423.16 500.4,424.7 C499.1,423.16 496.49,423.35 493.69,422.2 C488.28,419.89 486.7,413.92 486.7,404.78 C486.7,387.94 494.81,368.7 500.4,368.7 Z" fill="#FFE0E0" stroke="#000" stroke-width="2" stroke-linejoin="round"/>
<path d="M497.35,383.55 A2.95,2.95 0 0 1 503.25,383.55 L503.25,396.2 Q503.25,397.3 502.15,397.3 L498.45,397.3 Q497.35,397.3 497.35,396.2 Z" fill="#fff" stroke="#000" stroke-width="1.05" />
<path d="M497.35,415.55 A2.95,2.95 0 0 0 503.25,415.55 L503.25,402.6 Q503.25,401.5 502.15,401.5 L498.45,401.5 Q497.35,401.5 497.35,402.6 Z" fill="#fff" stroke="#000" stroke-width="1.05" />
<circle cx="500.3" cy="399.4" r="1.85" fill="#fff" stroke="#000" stroke-width="1.0"/>
<rect x="497.8" y="386.9" width="5" height="5" fill="#F08080"/>
<rect x="497.8" y="405.8" width="5" height="1.9" fill="#2BC4F3"/>
<line x1="497.75" y1="386.1" x2="502.85" y2="386.1" stroke="#333" stroke-width="0.5" stroke-linecap="butt" />
<line x1="497.75" y1="392.6" x2="502.85" y2="392.6" stroke="#333" stroke-width="0.5" stroke-linecap="butt" />
<circle cx="489.2" cy="448.2" r="5.7" fill="none" stroke="#000" stroke-width="2.6"/>
<line x1="493.2" y1="444.2" x2="502.9" y2="434.3" stroke="#000" stroke-width="2.4" stroke-linecap="butt" />
<line x1="492" y1="433.8" x2="504.5" y2="433.8" stroke="#000" stroke-width="1.8" stroke-linecap="butt" />
<line x1="503.4" y1="432.9" x2="503.4" y2="445.8" stroke="#000" stroke-width="2.2" stroke-linecap="butt" />
<path d="M524.9,403.2 L545.7,397.1 L539.9,403.2 L545.7,409.3 Z" fill="#000" stroke="none" stroke-width="0" />
<path d="M573.8,424.9 C573.7,425.42 573.68,427.07 573.2,428 C572.72,428.93 571.93,429.93 570.9,430.5 C569.87,431.07 568.68,431.55 567,431.4 C565.32,431.25 562.85,430.33 560.8,429.6 C558.75,428.87 556.58,427.6 554.7,427 C552.82,426.4 551.1,425.78 549.5,426 C547.9,426.22 546.1,427.25 545.1,428.3 C544.1,429.35 543.35,430.92 543.5,432.3 C543.65,433.68 544.57,435.47 546,436.6 C547.43,437.73 549.77,438.77 552.1,439.1" fill="none" stroke="#000" stroke-width="1.3" stroke-linecap="round"/>
<path d="M552.1,439.1 C554.43,439.43 557.37,438.93 560,438.6 C562.63,438.27 565.28,437.68 567.9,437.1 C570.52,436.52 573.08,435.58 575.7,435.1 C578.32,434.62 581.25,434.08 583.6,434.2 C585.95,434.32 588.33,434.88 589.8,435.8 C591.27,436.72 592.27,438.4 592.4,439.7 C592.53,441 591.77,442.65 590.6,443.6 C589.43,444.55 587.43,445.17 585.4,445.4 C583.37,445.63 580.73,445.37 578.4,445 C576.07,444.63 573.88,443.72 571.4,443.2 C568.92,442.68 566.28,442.12 563.5,441.9 C560.72,441.68 557.48,441.62 554.7,441.9" fill="none" stroke="#111" stroke-width="1" stroke-linecap="round"/>
<path d="M554.7,441.9 C551.92,442.18 548.92,442.72 546.8,443.6 C544.68,444.48 542.8,445.95 542,447.2 C541.2,448.45 541.48,450.02 542,451.1 C542.52,452.18 543.72,453.18 545.1,453.7 C546.48,454.22 548.4,454.48 550.3,454.2 C552.2,453.92 554.3,452.82 556.5,452 C558.7,451.18 561.17,449.97 563.5,449.3 C565.83,448.63 568.17,448.07 570.5,448" fill="none" stroke="#333" stroke-width="0.75" stroke-linecap="round"/>
<path d="M570.5,448 C572.83,447.93 574.88,448.32 577.5,448.9 C580.12,449.48 583.87,450.55 586.2,451.5 C588.53,452.45 590.32,453.57 591.5,454.6 C592.68,455.63 593.37,456.72 593.3,457.7 C593.23,458.68 592.28,459.9 591.1,460.5 C589.92,461.1 588.32,461.22 586.2,461.3" fill="none" stroke="#777" stroke-width="0.55" stroke-linecap="round"/>
<path d="M586.2,461.3 C584.08,461.38 581.02,461.13 578.4,461 C575.78,460.87 572.98,460.62 570.5,460.5 C568.02,460.38 565.55,460.18 563.5,460.3 C561.45,460.42 559.67,460.62 558.2,461.2 C556.73,461.78 555.5,462.78 554.7,463.8 C553.9,464.82 553.47,466.07 553.4,467.3 C553.33,468.53 553.78,470.03 554.3,471.2 C554.82,472.37 556.13,473.78 556.5,474.3" fill="none" stroke="#aaa" stroke-width="0.45" stroke-linecap="round"/>
<path d="M573.8,368.7 C579.39,368.7 587.5,387.94 587.5,404.78 C587.5,413.92 585.92,419.89 580.51,422.2 C577.71,423.35 575.1,423.16 573.8,424.7 C572.5,423.16 569.89,423.35 567.09,422.2 C561.68,419.89 560.1,413.92 560.1,404.78 C560.1,387.94 568.21,368.7 573.8,368.7 Z" fill="#E6E6E6" stroke="#000" stroke-width="2" stroke-linejoin="round"/>
<path d="M570.75,383.55 A2.95,2.95 0 0 1 576.65,383.55 L576.65,396.2 Q576.65,397.3 575.55,397.3 L571.85,397.3 Q570.75,397.3 570.75,396.2 Z" fill="#fff" stroke="#000" stroke-width="1.05" />
<path d="M570.75,415.55 A2.95,2.95 0 0 0 576.65,415.55 L576.65,402.6 Q576.65,401.5 575.55,401.5 L571.85,401.5 Q570.75,401.5 570.75,402.6 Z" fill="#fff" stroke="#000" stroke-width="1.05" />
<circle cx="573.7" cy="399.4" r="1.85" fill="#fff" stroke="#000" stroke-width="1.0"/>
<rect x="571.2" y="386.9" width="5" height="5" fill="#BBBBBB"/>
<line x1="571.15" y1="386.1" x2="576.25" y2="386.1" stroke="#333" stroke-width="0.5" stroke-linecap="butt" />
<line x1="571.15" y1="392.6" x2="576.25" y2="392.6" stroke="#333" stroke-width="0.5" stroke-linecap="butt" />
<circle cx="566.9" cy="437.1" r="5.9" fill="none" stroke="#000" stroke-width="2.6"/>
<line x1="566.9" y1="443.1" x2="566.9" y2="457.7" stroke="#000" stroke-width="2.4" stroke-linecap="butt" />
<line x1="556.3" y1="448.6" x2="577.3" y2="448.6" stroke="#000" stroke-width="1.9" stroke-linecap="butt" />
<line x1="52.85" y1="598.1" x2="685" y2="598.1" stroke="#111" stroke-width="1.5" stroke-linecap="butt" stroke-dasharray="1.3 2.64"/>
<line x1="52.85" y1="770.7" x2="685" y2="770.7" stroke="#111" stroke-width="1.5" stroke-linecap="butt" stroke-dasharray="1.3 2.64"/>
<line x1="49.5" y1="511.4" x2="49.5" y2="771.1" stroke="#222" stroke-width="1" stroke-linecap="butt" />
<line x1="44.1" y1="770.7" x2="49.5" y2="770.7" stroke="#222" stroke-width="1" stroke-linecap="butt" />
<line x1="46.7" y1="753.44" x2="49.5" y2="753.44" stroke="#444" stroke-width="0.9" stroke-linecap="butt" />
<line x1="46.7" y1="736.18" x2="49.5" y2="736.18" stroke="#444" stroke-width="0.9" stroke-linecap="butt" />
<line x1="46.7" y1="718.92" x2="49.5" y2="718.92" stroke="#444" stroke-width="0.9" stroke-linecap="butt" />
<line x1="46.7" y1="701.66" x2="49.5" y2="701.66" stroke="#444" stroke-width="0.9" stroke-linecap="butt" />
<line x1="44.1" y1="684.4" x2="49.5" y2="684.4" stroke="#222" stroke-width="1" stroke-linecap="butt" />
<line x1="46.7" y1="667.14" x2="49.5" y2="667.14" stroke="#444" stroke-width="0.9" stroke-linecap="butt" />
<line x1="46.7" y1="649.88" x2="49.5" y2="649.88" stroke="#444" stroke-width="0.9" stroke-linecap="butt" />
<line x1="46.7" y1="632.62" x2="49.5" y2="632.62" stroke="#444" stroke-width="0.9" stroke-linecap="butt" />
<line x1="46.7" y1="615.36" x2="49.5" y2="615.36" stroke="#444" stroke-width="0.9" stroke-linecap="butt" />
<line x1="44.1" y1="598.1" x2="49.5" y2="598.1" stroke="#222" stroke-width="1" stroke-linecap="butt" />
<line x1="46.7" y1="580.84" x2="49.5" y2="580.84" stroke="#444" stroke-width="0.9" stroke-linecap="butt" />
<line x1="46.7" y1="563.58" x2="49.5" y2="563.58" stroke="#444" stroke-width="0.9" stroke-linecap="butt" />
<line x1="46.7" y1="546.32" x2="49.5" y2="546.32" stroke="#444" stroke-width="0.9" stroke-linecap="butt" />
<line x1="46.7" y1="529.06" x2="49.5" y2="529.06" stroke="#444" stroke-width="0.9" stroke-linecap="butt" />
<line x1="44.1" y1="511.8" x2="49.5" y2="511.8" stroke="#222" stroke-width="1" stroke-linecap="butt" />
<text x="42.7" y="774.3" font-family="'Liberation Sans', sans-serif" font-size="10" font-weight="bold" font-style="normal" text-anchor="end" fill="#000" >0</text>
<text x="42.7" y="688" font-family="'Liberation Sans', sans-serif" font-size="10" font-weight="bold" font-style="normal" text-anchor="end" fill="#000" >25</text>
<text x="42.7" y="601.7" font-family="'Liberation Sans', sans-serif" font-size="10" font-weight="bold" font-style="normal" text-anchor="end" fill="#000" >50</text>
<text x="42.7" y="515.4" font-family="'Liberation Sans', sans-serif" font-size="10" font-weight="bold" font-style="normal" text-anchor="end" fill="#000" >75</text>
<text transform="translate(19.0,640.7) rotate(-90)" font-family="'Liberation Sans', sans-serif" font-size="12.8" font-weight="bold" text-anchor="middle">Scored Progeny %</text>
<rect x="63.3" y="509.6" width="75.4" height="53.7" rx="7.5" ry="7.5" fill="#fff" stroke="#000" stroke-width="2.1"/>
<rect x="75.1" y="519.7" width="18.9" height="11" fill="#FF8080" stroke="#333" stroke-width="0.8" />
<rect x="75.1" y="541.8" width="18.9" height="11.4" fill="#D3D3D3" stroke="#333" stroke-width="0.8" />
<text x="100.1" y="529.2" font-family="'Liberation Sans', sans-serif" font-size="9.6" font-weight="bold" font-style="normal" text-anchor="start" fill="#000">+w<tspan font-size="6.62" dy="-3.6">GDe</tspan></text>
<text x="100.1" y="551.5" font-family="'Liberation Sans', sans-serif" font-size="9.6" font-weight="bold" font-style="normal" text-anchor="start" fill="#000">−w<tspan font-size="6.62" dy="-3.6">GDe</tspan></text>
<rect x="61.1" y="596.1" width="22.3" height="174.6" fill="#FF8080" stroke="#000" stroke-width="1" />
<line x1="60.6" y1="595.75" x2="83.9" y2="595.75" stroke="#000" stroke-width="1.5" stroke-linecap="butt" />
<line x1="72.25" y1="593.8" x2="72.25" y2="596.1" stroke="#555555" stroke-width="1.1" stroke-linecap="butt" />
<line x1="69.45" y1="593.8" x2="75.05" y2="593.8" stroke="#555555" stroke-width="1.3" stroke-linecap="butt" />
<line x1="72.25" y1="586.4" x2="72.25" y2="605.6" stroke="#AA0A14" stroke-width="1.1" stroke-linecap="butt" />
<line x1="66.5" y1="586.4" x2="78" y2="586.4" stroke="#AA0A14" stroke-width="1.1" stroke-linecap="butt" />
<line x1="66.5" y1="605.6" x2="78" y2="605.6" stroke="#AA0A14" stroke-width="1.1" stroke-linecap="butt" />
<text x="72.25" y="688.3" font-family="'Liberation Sans', sans-serif" font-size="10.5" font-weight="normal" font-style="normal" text-anchor="middle" fill="#000" >51</text>
<rect x="88.7" y="768.3" width="22.3" height="2.4" fill="#FF8080" stroke="#000" stroke-width="1" />
<rect x="88.7" y="601.4" width="22.3" height="166.9" fill="#D3D3D3" stroke="#000" stroke-width="1" />
<line x1="99.85" y1="590.9" x2="99.85" y2="610.3" stroke="#555555" stroke-width="1.1" stroke-linecap="butt" />
<line x1="96.65" y1="590.9" x2="103.05" y2="590.9" stroke="#555555" stroke-width="1.1" stroke-linecap="butt" />
<line x1="96.65" y1="610.3" x2="103.05" y2="610.3" stroke="#555555" stroke-width="1.1" stroke-linecap="butt" />
<line x1="99.85" y1="765" x2="99.85" y2="770.4" stroke="#AA0A14" stroke-width="1.1" stroke-linecap="butt" />
<line x1="94.1" y1="765" x2="105.6" y2="765" stroke="#AA0A14" stroke-width="1.1" stroke-linecap="butt" />
<line x1="94.1" y1="770.4" x2="105.6" y2="770.4" stroke="#AA0A14" stroke-width="1.1" stroke-linecap="butt" />
<text x="99.85" y="688.9" font-family="'Liberation Sans', sans-serif" font-size="10.5" font-weight="normal" font-style="normal" text-anchor="middle" fill="#000" >49</text>
<rect x="139.6" y="740" width="22.3" height="30.7" fill="#FF8080" stroke="#000" stroke-width="1" />
<rect x="139.6" y="605.3" width="22.3" height="134.7" fill="#D3D3D3" stroke="#000" stroke-width="1" />
<line x1="150.75" y1="588.8" x2="150.75" y2="620.5" stroke="#555555" stroke-width="1.1" stroke-linecap="butt" />
<line x1="147.55" y1="588.8" x2="153.95" y2="588.8" stroke="#555555" stroke-width="1.1" stroke-linecap="butt" />
<line x1="147.55" y1="620.5" x2="153.95" y2="620.5" stroke="#555555" stroke-width="1.1" stroke-linecap="butt" />
<line x1="150.75" y1="728.8" x2="150.75" y2="747.2" stroke="#AA0A14" stroke-width="1.1" stroke-linecap="butt" />
<line x1="145" y1="728.8" x2="156.5" y2="728.8" stroke="#AA0A14" stroke-width="1.1" stroke-linecap="butt" />
<line x1="145" y1="747.2" x2="156.5" y2="747.2" stroke="#AA0A14" stroke-width="1.1" stroke-linecap="butt" />
<text x="150.75" y="676.6" font-family="'Liberation Sans', sans-serif" font-size="10.5" font-weight="normal" font-style="normal" text-anchor="middle" fill="#000" >48</text>
<text x="150.75" y="759.9" font-family="'Liberation Sans', sans-serif" font-size="10.5" font-weight="normal" font-style="normal" text-anchor="middle" fill="#000" >9</text>
<rect x="167.2" y="591.9" width="22.3" height="178.8" fill="#FF8080" stroke="#000" stroke-width="1" />
<line x1="166.7" y1="591.55" x2="190" y2="591.55" stroke="#000" stroke-width="1.5" stroke-linecap="butt" />
<line x1="178.35" y1="588.4" x2="178.35" y2="591.9" stroke="#555555" stroke-width="1.1" stroke-linecap="butt" />
<line x1="175.55" y1="588.4" x2="181.15" y2="588.4" stroke="#555555" stroke-width="1.3" stroke-linecap="butt" />
<line x1="178.35" y1="575.5" x2="178.35" y2="607.3" stroke="#AA0A14" stroke-width="1.1" stroke-linecap="butt" />
<line x1="172.6" y1="575.5" x2="184.1" y2="575.5" stroke="#AA0A14" stroke-width="1.1" stroke-linecap="butt" />
<line x1="172.6" y1="607.3" x2="184.1" y2="607.3" stroke="#AA0A14" stroke-width="1.1" stroke-linecap="butt" />
<text x="178.35" y="685.4" font-family="'Liberation Sans', sans-serif" font-size="10.5" font-weight="normal" font-style="normal" text-anchor="middle" fill="#000" >52</text>
<rect x="201.3" y="590.3" width="22.3" height="180.4" fill="#FF8080" stroke="#000" stroke-width="1" />
<line x1="200.8" y1="589.95" x2="224.1" y2="589.95" stroke="#000" stroke-width="1.5" stroke-linecap="butt" />
<line x1="212.45" y1="584" x2="212.45" y2="590.3" stroke="#555555" stroke-width="1.1" stroke-linecap="butt" />
<line x1="209.65" y1="584" x2="215.25" y2="584" stroke="#555555" stroke-width="1.3" stroke-linecap="butt" />
<line x1="212.45" y1="567.4" x2="212.45" y2="613.1" stroke="#AA0A14" stroke-width="1.1" stroke-linecap="butt" />
<line x1="206.7" y1="567.4" x2="218.2" y2="567.4" stroke="#AA0A14" stroke-width="1.1" stroke-linecap="butt" />
<line x1="206.7" y1="613.1" x2="218.2" y2="613.1" stroke="#AA0A14" stroke-width="1.1" stroke-linecap="butt" />
<text x="212.45" y="684.9" font-family="'Liberation Sans', sans-serif" font-size="10.5" font-weight="normal" font-style="normal" text-anchor="middle" fill="#000" >52</text>
<rect x="228.9" y="740.8" width="22.3" height="29.9" fill="#FF8080" stroke="#000" stroke-width="1" />
<rect x="228.9" y="606.7" width="22.3" height="134.1" fill="#D3D3D3" stroke="#000" stroke-width="1" />
<line x1="240.05" y1="583.2" x2="240.05" y2="628" stroke="#555555" stroke-width="1.1" stroke-linecap="butt" />
<line x1="236.85" y1="583.2" x2="243.25" y2="583.2" stroke="#555555" stroke-width="1.1" stroke-linecap="butt" />
<line x1="236.85" y1="628" x2="243.25" y2="628" stroke="#555555" stroke-width="1.1" stroke-linecap="butt" />
<line x1="240.05" y1="724.5" x2="240.05" y2="750.7" stroke="#AA0A14" stroke-width="1.1" stroke-linecap="butt" />
<line x1="234.3" y1="724.5" x2="245.8" y2="724.5" stroke="#AA0A14" stroke-width="1.1" stroke-linecap="butt" />
<line x1="234.3" y1="750.7" x2="245.8" y2="750.7" stroke="#AA0A14" stroke-width="1.1" stroke-linecap="butt" />
<text x="240.05" y="677.4" font-family="'Liberation Sans', sans-serif" font-size="10.5" font-weight="normal" font-style="normal" text-anchor="middle" fill="#000" >48</text>
<text x="240.05" y="759.9" font-family="'Liberation Sans', sans-serif" font-size="10.5" font-weight="normal" font-style="normal" text-anchor="middle" fill="#000" >9</text>
<rect x="279.8" y="761.9" width="22.3" height="8.8" fill="#FF8080" stroke="#000" stroke-width="1" />
<rect x="279.8" y="590.1" width="22.3" height="171.8" fill="#D3D3D3" stroke="#000" stroke-width="1" />
<line x1="290.95" y1="578.1" x2="290.95" y2="601.3" stroke="#555555" stroke-width="1.1" stroke-linecap="butt" />
<line x1="287.75" y1="578.1" x2="294.15" y2="578.1" stroke="#555555" stroke-width="1.1" stroke-linecap="butt" />
<line x1="287.75" y1="601.3" x2="294.15" y2="601.3" stroke="#555555" stroke-width="1.1" stroke-linecap="butt" />
<line x1="290.95" y1="756.8" x2="290.95" y2="764.5" stroke="#AA0A14" stroke-width="1.1" stroke-linecap="butt" />
<line x1="285.2" y1="756.8" x2="296.7" y2="756.8" stroke="#AA0A14" stroke-width="1.1" stroke-linecap="butt" />
<line x1="285.2" y1="764.5" x2="296.7" y2="764.5" stroke="#AA0A14" stroke-width="1.1" stroke-linecap="butt" />
<text x="290.95" y="679.9" font-family="'Liberation Sans', sans-serif" font-size="10.5" font-weight="normal" font-style="normal" text-anchor="middle" fill="#000" >52</text>
<rect x="307.4" y="607.2" width="22.3" height="163.5" fill="#FF8080" stroke="#000" stroke-width="1" />
<line x1="306.9" y1="606.85" x2="330.2" y2="606.85" stroke="#000" stroke-width="1.5" stroke-linecap="butt" />
<line x1="318.55" y1="604.6" x2="318.55" y2="607.2" stroke="#555555" stroke-width="1.1" stroke-linecap="butt" />
<line x1="315.75" y1="604.6" x2="321.35" y2="604.6" stroke="#555555" stroke-width="1.3" stroke-linecap="butt" />
<line x1="318.55" y1="595.2" x2="318.55" y2="618.1" stroke="#AA0A14" stroke-width="1.1" stroke-linecap="butt" />
<line x1="312.8" y1="595.2" x2="324.3" y2="595.2" stroke="#AA0A14" stroke-width="1.1" stroke-linecap="butt" />
<line x1="312.8" y1="618.1" x2="324.3" y2="618.1" stroke="#AA0A14" stroke-width="1.1" stroke-linecap="butt" />
<text x="318.55" y="693.2" font-family="'Liberation Sans', sans-serif" font-size="10.5" font-weight="normal" font-style="normal" text-anchor="middle" fill="#000" >47</text>
<rect x="341.5" y="571.2" width="22.3" height="199.5" fill="#FF8080" stroke="#000" stroke-width="1" />
<rect x="341.5" y="568.1" width="22.3" height="3.1" fill="#D3D3D3" stroke="#000" stroke-width="1" />
<line x1="352.65" y1="554.5" x2="352.65" y2="588.2" stroke="#AA0A14" stroke-width="1.1" stroke-linecap="butt" />
<line x1="346.9" y1="554.5" x2="358.4" y2="554.5" stroke="#AA0A14" stroke-width="1.1" stroke-linecap="butt" />
<line x1="346.9" y1="588.2" x2="358.4" y2="588.2" stroke="#AA0A14" stroke-width="1.1" stroke-linecap="butt" />
<line x1="352.65" y1="561.8" x2="352.65" y2="569.6" stroke="#555555" stroke-width="1.1" stroke-linecap="butt" />
<line x1="349.45" y1="561.8" x2="355.85" y2="561.8" stroke="#555555" stroke-width="1.1" stroke-linecap="butt" />
<line x1="349.45" y1="569.6" x2="355.85" y2="569.6" stroke="#555555" stroke-width="1.1" stroke-linecap="butt" />
<text x="352.65" y="675.1" font-family="'Liberation Sans', sans-serif" font-size="10.5" font-weight="normal" font-style="normal" text-anchor="middle" fill="#000" >58</text>
<rect x="369.1" y="743.2" width="22.3" height="27.5" fill="#FF8080" stroke="#000" stroke-width="1" />
<rect x="369.1" y="629.3" width="22.3" height="113.9" fill="#D3D3D3" stroke="#000" stroke-width="1" />
<line x1="380.25" y1="612" x2="380.25" y2="644.5" stroke="#555555" stroke-width="1.1" stroke-linecap="butt" />
<line x1="377.05" y1="612" x2="383.45" y2="612" stroke="#555555" stroke-width="1.1" stroke-linecap="butt" />
<line x1="377.05" y1="644.5" x2="383.45" y2="644.5" stroke="#555555" stroke-width="1.1" stroke-linecap="butt" />
<line x1="380.25" y1="731.5" x2="380.25" y2="750.1" stroke="#AA0A14" stroke-width="1.1" stroke-linecap="butt" />
<line x1="374.5" y1="731.5" x2="386" y2="731.5" stroke="#AA0A14" stroke-width="1.1" stroke-linecap="butt" />
<line x1="374.5" y1="750.1" x2="386" y2="750.1" stroke="#AA0A14" stroke-width="1.1" stroke-linecap="butt" />
<text x="380.25" y="689.2" font-family="'Liberation Sans', sans-serif" font-size="10.5" font-weight="normal" font-style="normal" text-anchor="middle" fill="#000" >41</text>
<text x="380.25" y="761.2" font-family="'Liberation Sans', sans-serif" font-size="10.5" font-weight="normal" font-style="normal" text-anchor="middle" fill="#000" >8</text>
<rect x="420" y="731.2" width="22.3" height="39.5" fill="#FF8080" stroke="#000" stroke-width="1" />
<rect x="420" y="606.1" width="22.3" height="125.1" fill="#D3D3D3" stroke="#000" stroke-width="1" />
<line x1="431.15" y1="598.1" x2="431.15" y2="613.3" stroke="#555555" stroke-width="1.1" stroke-linecap="butt" />
<line x1="427.95" y1="598.1" x2="434.35" y2="598.1" stroke="#555555" stroke-width="1.1" stroke-linecap="butt" />
<line x1="427.95" y1="613.3" x2="434.35" y2="613.3" stroke="#555555" stroke-width="1.1" stroke-linecap="butt" />
<line x1="431.15" y1="725.3" x2="431.15" y2="735.5" stroke="#AA0A14" stroke-width="1.1" stroke-linecap="butt" />
<line x1="425.4" y1="725.3" x2="436.9" y2="725.3" stroke="#AA0A14" stroke-width="1.1" stroke-linecap="butt" />
<line x1="425.4" y1="735.5" x2="436.9" y2="735.5" stroke="#AA0A14" stroke-width="1.1" stroke-linecap="butt" />
<text x="431.15" y="672.7" font-family="'Liberation Sans', sans-serif" font-size="10.5" font-weight="normal" font-style="normal" text-anchor="middle" fill="#000" >48</text>
<text x="431.15" y="755.1" font-family="'Liberation Sans', sans-serif" font-size="10.5" font-weight="normal" font-style="normal" text-anchor="middle" fill="#000" >12</text>
<rect x="447.6" y="590.9" width="22.3" height="179.8" fill="#FF8080" stroke="#000" stroke-width="1" />
<line x1="447.1" y1="590.55" x2="470.4" y2="590.55" stroke="#000" stroke-width="1.5" stroke-linecap="butt" />
<line x1="458.75" y1="589.7" x2="458.75" y2="590.9" stroke="#555555" stroke-width="1.1" stroke-linecap="butt" />
<line x1="455.95" y1="589.7" x2="461.55" y2="589.7" stroke="#555555" stroke-width="1.3" stroke-linecap="butt" />
<line x1="458.75" y1="582.5" x2="458.75" y2="598.4" stroke="#AA0A14" stroke-width="1.1" stroke-linecap="butt" />
<line x1="453" y1="582.5" x2="464.5" y2="582.5" stroke="#AA0A14" stroke-width="1.1" stroke-linecap="butt" />
<line x1="453" y1="598.4" x2="464.5" y2="598.4" stroke="#AA0A14" stroke-width="1.1" stroke-linecap="butt" />
<text x="458.75" y="685.2" font-family="'Liberation Sans', sans-serif" font-size="10.5" font-weight="normal" font-style="normal" text-anchor="middle" fill="#000" >52</text>
<rect x="481.7" y="590.1" width="22.3" height="180.6" fill="#FF8080" stroke="#000" stroke-width="1" />
<line x1="481.2" y1="589.75" x2="504.5" y2="589.75" stroke="#000" stroke-width="1.5" stroke-linecap="butt" />
<line x1="492.85" y1="588.6" x2="492.85" y2="590.1" stroke="#555555" stroke-width="1.1" stroke-linecap="butt" />
<line x1="490.05" y1="588.6" x2="495.65" y2="588.6" stroke="#555555" stroke-width="1.3" stroke-linecap="butt" />
<line x1="492.85" y1="583" x2="492.85" y2="595.5" stroke="#AA0A14" stroke-width="1.1" stroke-linecap="butt" />
<line x1="487.1" y1="583" x2="498.6" y2="583" stroke="#AA0A14" stroke-width="1.1" stroke-linecap="butt" />
<line x1="487.1" y1="595.5" x2="498.6" y2="595.5" stroke="#AA0A14" stroke-width="1.1" stroke-linecap="butt" />
<text x="492.85" y="684.9" font-family="'Liberation Sans', sans-serif" font-size="10.5" font-weight="normal" font-style="normal" text-anchor="middle" fill="#000" >53</text>
<rect x="509.3" y="734.1" width="22.3" height="36.6" fill="#FF8080" stroke="#000" stroke-width="1" />
<rect x="509.3" y="607.5" width="22.3" height="126.6" fill="#D3D3D3" stroke="#000" stroke-width="1" />
<line x1="520.45" y1="600.8" x2="520.45" y2="612.8" stroke="#555555" stroke-width="1.1" stroke-linecap="butt" />
<line x1="517.25" y1="600.8" x2="523.65" y2="600.8" stroke="#555555" stroke-width="1.1" stroke-linecap="butt" />
<line x1="517.25" y1="612.8" x2="523.65" y2="612.8" stroke="#555555" stroke-width="1.1" stroke-linecap="butt" />
<line x1="520.45" y1="729.3" x2="520.45" y2="736.8" stroke="#AA0A14" stroke-width="1.1" stroke-linecap="butt" />
<line x1="514.7" y1="729.3" x2="526.2" y2="729.3" stroke="#AA0A14" stroke-width="1.1" stroke-linecap="butt" />
<line x1="514.7" y1="736.8" x2="526.2" y2="736.8" stroke="#AA0A14" stroke-width="1.1" stroke-linecap="butt" />
<text x="520.45" y="674" font-family="'Liberation Sans', sans-serif" font-size="10.5" font-weight="normal" font-style="normal" text-anchor="middle" fill="#000" >47</text>
<text x="520.45" y="755.9" font-family="'Liberation Sans', sans-serif" font-size="10.5" font-weight="normal" font-style="normal" text-anchor="middle" fill="#000" >11</text>
<rect x="560.2" y="769.8" width="22.3" height="0.9" fill="#FF8080" stroke="#000" stroke-width="1" />
<rect x="560.2" y="652.1" width="22.3" height="117.7" fill="#D3D3D3" stroke="#000" stroke-width="1" />
<line x1="571.35" y1="644" x2="571.35" y2="658.8" stroke="#555555" stroke-width="1.1" stroke-linecap="butt" />
<line x1="568.15" y1="644" x2="574.55" y2="644" stroke="#555555" stroke-width="1.1" stroke-linecap="butt" />
<line x1="568.15" y1="658.8" x2="574.55" y2="658.8" stroke="#555555" stroke-width="1.1" stroke-linecap="butt" />
<text x="571.35" y="715.4" font-family="'Liberation Sans', sans-serif" font-size="10.5" font-weight="normal" font-style="normal" text-anchor="middle" fill="#000" >35</text>
<rect x="587.8" y="545.7" width="22.3" height="225" fill="#FF8080" stroke="#000" stroke-width="1" />
<line x1="587.3" y1="545.35" x2="610.6" y2="545.35" stroke="#000" stroke-width="1.5" stroke-linecap="butt" />
<line x1="598.95" y1="544.5" x2="598.95" y2="545.7" stroke="#555555" stroke-width="1.1" stroke-linecap="butt" />
<line x1="596.15" y1="544.5" x2="601.75" y2="544.5" stroke="#555555" stroke-width="1.3" stroke-linecap="butt" />
<line x1="598.95" y1="538.1" x2="598.95" y2="552" stroke="#AA0A14" stroke-width="1.1" stroke-linecap="butt" />
<line x1="593.2" y1="538.1" x2="604.7" y2="538.1" stroke="#AA0A14" stroke-width="1.1" stroke-linecap="butt" />
<line x1="593.2" y1="552" x2="604.7" y2="552" stroke="#AA0A14" stroke-width="1.1" stroke-linecap="butt" />
<text x="598.95" y="662.9" font-family="'Liberation Sans', sans-serif" font-size="10.5" font-weight="normal" font-style="normal" text-anchor="middle" fill="#000" >65</text>
<rect x="621.9" y="541.5" width="22.3" height="229.2" fill="#FF8080" stroke="#000" stroke-width="1" />
<line x1="621.4" y1="541.15" x2="644.7" y2="541.15" stroke="#000" stroke-width="1.5" stroke-linecap="butt" />
<line x1="633.05" y1="540.3" x2="633.05" y2="541.5" stroke="#555555" stroke-width="1.1" stroke-linecap="butt" />
<line x1="630.25" y1="540.3" x2="635.85" y2="540.3" stroke="#555555" stroke-width="1.3" stroke-linecap="butt" />
<line x1="633.05" y1="534.2" x2="633.05" y2="548.1" stroke="#AA0A14" stroke-width="1.1" stroke-linecap="butt" />
<line x1="627.3" y1="534.2" x2="638.8" y2="534.2" stroke="#AA0A14" stroke-width="1.1" stroke-linecap="butt" />
<line x1="627.3" y1="548.1" x2="638.8" y2="548.1" stroke="#AA0A14" stroke-width="1.1" stroke-linecap="butt" />
<text x="633.05" y="660.6" font-family="'Liberation Sans', sans-serif" font-size="10.5" font-weight="normal" font-style="normal" text-anchor="middle" fill="#000" >67</text>
<rect x="649.5" y="769.8" width="22.3" height="0.9" fill="#FF8080" stroke="#000" stroke-width="1" />
<rect x="649.5" y="656.1" width="22.3" height="113.7" fill="#D3D3D3" stroke="#000" stroke-width="1" />
<line x1="660.65" y1="648.5" x2="660.65" y2="662.1" stroke="#555555" stroke-width="1.1" stroke-linecap="butt" />
<line x1="657.45" y1="648.5" x2="663.85" y2="648.5" stroke="#555555" stroke-width="1.1" stroke-linecap="butt" />
<line x1="657.45" y1="662.1" x2="663.85" y2="662.1" stroke="#555555" stroke-width="1.1" stroke-linecap="butt" />
<text x="660.65" y="717.3" font-family="'Liberation Sans', sans-serif" font-size="10.5" font-weight="normal" font-style="normal" text-anchor="middle" fill="#000" >33</text>
<line x1="565.6" y1="769.6" x2="576.7" y2="769.6" stroke="#AA0A14" stroke-width="1.2" stroke-linecap="butt" />
<line x1="654.6" y1="769.6" x2="665.8" y2="769.6" stroke="#AA0A14" stroke-width="1.2" stroke-linecap="butt" />
<text x="117.3" y="750.6" font-family="'Liberation Sans', sans-serif" font-size="8.8" font-weight="normal" font-style="normal" text-anchor="middle" fill="#111" >1</text>
<line x1="114.8" y1="750.6" x2="106.6" y2="768.8" stroke="#222" stroke-width="0.6" stroke-linecap="butt" />
<text x="275.2" y="750.6" font-family="'Liberation Sans', sans-serif" font-size="8.8" font-weight="normal" font-style="normal" text-anchor="middle" fill="#111" >3</text>
<line x1="276.7" y1="750.9" x2="285.3" y2="767.5" stroke="#222" stroke-width="0.6" stroke-linecap="butt" />
<line x1="59" y1="778.9" x2="85" y2="778.9" stroke="#000" stroke-width="1.6" stroke-linecap="butt" />
<line x1="86.6" y1="778.9" x2="112.6" y2="778.9" stroke="#000" stroke-width="1.6" stroke-linecap="butt" />
<line x1="59" y1="799" x2="112.6" y2="799" stroke="#000" stroke-width="1.6" stroke-linecap="butt" />
<line x1="59" y1="819.3" x2="112.6" y2="819.3" stroke="#000" stroke-width="1.6" stroke-linecap="butt" />
<text x="72.15" y="793.1" font-family="'DejaVu Sans', 'Liberation Sans', sans-serif" font-size="12" font-weight="normal" font-style="normal" text-anchor="middle" fill="#000" >♂</text>
<text x="99.85" y="792.7" font-family="'DejaVu Sans', 'Liberation Sans', sans-serif" font-size="12" font-weight="normal" font-style="normal" text-anchor="middle" fill="#000" >♀</text>
<text x="85.85" y="813.7" font-family="'DejaVu Sans', 'Liberation Sans', sans-serif" font-size="12" font-weight="normal" font-style="normal" text-anchor="middle" fill="#000" >♂</text>
<text x="86.35" y="832.8" font-family="'Liberation Sans', sans-serif" font-size="8.3" font-weight="bold" font-style="italic" text-anchor="middle" fill="#000" >M</text>
<line x1="55" y1="753.1" x2="55" y2="832.2" stroke="#000" stroke-width="1.7" stroke-linecap="butt" />
<line x1="117.6" y1="753.1" x2="117.6" y2="832.2" stroke="#000" stroke-width="1.7" stroke-linecap="butt" />
<line x1="137.5" y1="778.9" x2="163.5" y2="778.9" stroke="#000" stroke-width="1.6" stroke-linecap="butt" />
<line x1="165.1" y1="778.9" x2="191.1" y2="778.9" stroke="#000" stroke-width="1.6" stroke-linecap="butt" />
<line x1="137.5" y1="799" x2="191.1" y2="799" stroke="#000" stroke-width="1.6" stroke-linecap="butt" />
<line x1="137.5" y1="819.3" x2="191.1" y2="819.3" stroke="#000" stroke-width="1.6" stroke-linecap="butt" />
<text x="150.65" y="793.1" font-family="'DejaVu Sans', 'Liberation Sans', sans-serif" font-size="12" font-weight="normal" font-style="normal" text-anchor="middle" fill="#000" >♂</text>
<text x="178.35" y="792.7" font-family="'DejaVu Sans', 'Liberation Sans', sans-serif" font-size="12" font-weight="normal" font-style="normal" text-anchor="middle" fill="#000" >♀</text>
<text x="164.35" y="813.7" font-family="'DejaVu Sans', 'Liberation Sans', sans-serif" font-size="12" font-weight="normal" font-style="normal" text-anchor="middle" fill="#000" >♂</text>
<text x="164.85" y="832.8" font-family="'Liberation Sans', sans-serif" font-size="8.3" font-weight="bold" font-style="italic" text-anchor="middle" fill="#000" >m</text>
<line x1="199.2" y1="778.9" x2="225.2" y2="778.9" stroke="#000" stroke-width="1.6" stroke-linecap="butt" />
<line x1="226.8" y1="778.9" x2="252.8" y2="778.9" stroke="#000" stroke-width="1.6" stroke-linecap="butt" />
<line x1="199.2" y1="799" x2="252.8" y2="799" stroke="#000" stroke-width="1.6" stroke-linecap="butt" />
<line x1="199.2" y1="819.3" x2="252.8" y2="819.3" stroke="#000" stroke-width="1.6" stroke-linecap="butt" />
<text x="212.35" y="793.1" font-family="'DejaVu Sans', 'Liberation Sans', sans-serif" font-size="12" font-weight="normal" font-style="normal" text-anchor="middle" fill="#000" >♂</text>
<text x="240.05" y="792.7" font-family="'DejaVu Sans', 'Liberation Sans', sans-serif" font-size="12" font-weight="normal" font-style="normal" text-anchor="middle" fill="#000" >♀</text>
<text x="226.05" y="813.7" font-family="'DejaVu Sans', 'Liberation Sans', sans-serif" font-size="12" font-weight="normal" font-style="normal" text-anchor="middle" fill="#000" >♂</text>
<text x="226.55" y="832.8" font-family="'Liberation Sans', sans-serif" font-size="8.3" font-weight="bold" font-style="italic" text-anchor="middle" fill="#000" >M</text>
<line x1="133.5" y1="753.1" x2="133.5" y2="832.2" stroke="#000" stroke-width="1.7" stroke-linecap="butt" />
<line x1="195.2" y1="753.1" x2="195.2" y2="832.2" stroke="#000" stroke-width="1.7" stroke-linecap="butt" />
<line x1="257.8" y1="753.1" x2="257.8" y2="832.2" stroke="#000" stroke-width="1.7" stroke-linecap="butt" />
<line x1="277.7" y1="778.9" x2="303.7" y2="778.9" stroke="#000" stroke-width="1.6" stroke-linecap="butt" />
<line x1="305.3" y1="778.9" x2="331.3" y2="778.9" stroke="#000" stroke-width="1.6" stroke-linecap="butt" />
<line x1="277.7" y1="799" x2="331.3" y2="799" stroke="#000" stroke-width="1.6" stroke-linecap="butt" />
<line x1="277.7" y1="819.3" x2="331.3" y2="819.3" stroke="#000" stroke-width="1.6" stroke-linecap="butt" />
<text x="290.85" y="793.1" font-family="'DejaVu Sans', 'Liberation Sans', sans-serif" font-size="12" font-weight="normal" font-style="normal" text-anchor="middle" fill="#000" >♂</text>
<text x="318.55" y="792.7" font-family="'DejaVu Sans', 'Liberation Sans', sans-serif" font-size="12" font-weight="normal" font-style="normal" text-anchor="middle" fill="#000" >♀</text>
<text x="304.55" y="813.7" font-family="'DejaVu Sans', 'Liberation Sans', sans-serif" font-size="12" font-weight="normal" font-style="normal" text-anchor="middle" fill="#000" >♂</text>
<text x="305.05" y="832.8" font-family="'Liberation Sans', sans-serif" font-size="8.3" font-weight="bold" font-style="italic" text-anchor="middle" fill="#000" >m</text>
<line x1="339.4" y1="778.9" x2="365.4" y2="778.9" stroke="#000" stroke-width="1.6" stroke-linecap="butt" />
<line x1="367" y1="778.9" x2="393" y2="778.9" stroke="#000" stroke-width="1.6" stroke-linecap="butt" />
<line x1="339.4" y1="799" x2="393" y2="799" stroke="#000" stroke-width="1.6" stroke-linecap="butt" />
<line x1="339.4" y1="819.3" x2="393" y2="819.3" stroke="#000" stroke-width="1.6" stroke-linecap="butt" />
<text x="352.55" y="793.1" font-family="'DejaVu Sans', 'Liberation Sans', sans-serif" font-size="12" font-weight="normal" font-style="normal" text-anchor="middle" fill="#000" >♂</text>
<text x="380.25" y="792.7" font-family="'DejaVu Sans', 'Liberation Sans', sans-serif" font-size="12" font-weight="normal" font-style="normal" text-anchor="middle" fill="#000" >♀</text>
<text x="366.25" y="813.7" font-family="'DejaVu Sans', 'Liberation Sans', sans-serif" font-size="12" font-weight="normal" font-style="normal" text-anchor="middle" fill="#000" >♂</text>
<text x="366.75" y="832.8" font-family="'Liberation Sans', sans-serif" font-size="8.3" font-weight="bold" font-style="italic" text-anchor="middle" fill="#000" >M</text>
<line x1="273.7" y1="753.1" x2="273.7" y2="832.2" stroke="#000" stroke-width="1.7" stroke-linecap="butt" />
<line x1="335.4" y1="753.1" x2="335.4" y2="832.2" stroke="#000" stroke-width="1.7" stroke-linecap="butt" />
<line x1="398" y1="753.1" x2="398" y2="832.2" stroke="#000" stroke-width="1.7" stroke-linecap="butt" />
<line x1="417.9" y1="778.9" x2="443.9" y2="778.9" stroke="#000" stroke-width="1.6" stroke-linecap="butt" />
<line x1="445.5" y1="778.9" x2="471.5" y2="778.9" stroke="#000" stroke-width="1.6" stroke-linecap="butt" />
<line x1="417.9" y1="799" x2="471.5" y2="799" stroke="#000" stroke-width="1.6" stroke-linecap="butt" />
<line x1="417.9" y1="819.3" x2="471.5" y2="819.3" stroke="#000" stroke-width="1.6" stroke-linecap="butt" />
<text x="431.05" y="793.1" font-family="'DejaVu Sans', 'Liberation Sans', sans-serif" font-size="12" font-weight="normal" font-style="normal" text-anchor="middle" fill="#000" >♂</text>
<text x="458.75" y="792.7" font-family="'DejaVu Sans', 'Liberation Sans', sans-serif" font-size="12" font-weight="normal" font-style="normal" text-anchor="middle" fill="#000" >♀</text>
<text x="444.75" y="813.7" font-family="'DejaVu Sans', 'Liberation Sans', sans-serif" font-size="12" font-weight="normal" font-style="normal" text-anchor="middle" fill="#000" >♂</text>
<text x="445.25" y="832.8" font-family="'Liberation Sans', sans-serif" font-size="8.3" font-weight="bold" font-style="italic" text-anchor="middle" fill="#000" >m</text>
<line x1="479.6" y1="778.9" x2="505.6" y2="778.9" stroke="#000" stroke-width="1.6" stroke-linecap="butt" />
<line x1="507.2" y1="778.9" x2="533.2" y2="778.9" stroke="#000" stroke-width="1.6" stroke-linecap="butt" />
<line x1="479.6" y1="799" x2="533.2" y2="799" stroke="#000" stroke-width="1.6" stroke-linecap="butt" />
<line x1="479.6" y1="819.3" x2="533.2" y2="819.3" stroke="#000" stroke-width="1.6" stroke-linecap="butt" />
<text x="492.75" y="793.1" font-family="'DejaVu Sans', 'Liberation Sans', sans-serif" font-size="12" font-weight="normal" font-style="normal" text-anchor="middle" fill="#000" >♂</text>
<text x="520.45" y="792.7" font-family="'DejaVu Sans', 'Liberation Sans', sans-serif" font-size="12" font-weight="normal" font-style="normal" text-anchor="middle" fill="#000" >♀</text>
<text x="506.45" y="813.7" font-family="'DejaVu Sans', 'Liberation Sans', sans-serif" font-size="12" font-weight="normal" font-style="normal" text-anchor="middle" fill="#000" >♂</text>
<text x="506.95" y="832.8" font-family="'Liberation Sans', sans-serif" font-size="8.3" font-weight="bold" font-style="italic" text-anchor="middle" fill="#000" >M</text>
<line x1="413.9" y1="753.1" x2="413.9" y2="832.2" stroke="#000" stroke-width="1.7" stroke-linecap="butt" />
<line x1="475.6" y1="753.1" x2="475.6" y2="832.2" stroke="#000" stroke-width="1.7" stroke-linecap="butt" />
<line x1="538.2" y1="753.1" x2="538.2" y2="832.2" stroke="#000" stroke-width="1.7" stroke-linecap="butt" />
<line x1="558.1" y1="778.9" x2="584.1" y2="778.9" stroke="#000" stroke-width="1.6" stroke-linecap="butt" />
<line x1="585.7" y1="778.9" x2="611.7" y2="778.9" stroke="#000" stroke-width="1.6" stroke-linecap="butt" />
<line x1="558.1" y1="799" x2="611.7" y2="799" stroke="#000" stroke-width="1.6" stroke-linecap="butt" />
<line x1="558.1" y1="819.3" x2="611.7" y2="819.3" stroke="#000" stroke-width="1.6" stroke-linecap="butt" />
<text x="571.25" y="793.1" font-family="'DejaVu Sans', 'Liberation Sans', sans-serif" font-size="12" font-weight="normal" font-style="normal" text-anchor="middle" fill="#000" >♂</text>
<text x="598.95" y="792.7" font-family="'DejaVu Sans', 'Liberation Sans', sans-serif" font-size="12" font-weight="normal" font-style="normal" text-anchor="middle" fill="#000" >♀</text>
<text x="584.95" y="813.7" font-family="'DejaVu Sans', 'Liberation Sans', sans-serif" font-size="12" font-weight="normal" font-style="normal" text-anchor="middle" fill="#000" >♂</text>
<text x="585.45" y="832.8" font-family="'Liberation Sans', sans-serif" font-size="8.3" font-weight="bold" font-style="italic" text-anchor="middle" fill="#000" >m</text>
<line x1="619.8" y1="778.9" x2="645.8" y2="778.9" stroke="#000" stroke-width="1.6" stroke-linecap="butt" />
<line x1="647.4" y1="778.9" x2="673.4" y2="778.9" stroke="#000" stroke-width="1.6" stroke-linecap="butt" />
<line x1="619.8" y1="799" x2="673.4" y2="799" stroke="#000" stroke-width="1.6" stroke-linecap="butt" />
<line x1="619.8" y1="819.3" x2="673.4" y2="819.3" stroke="#000" stroke-width="1.6" stroke-linecap="butt" />
<text x="632.95" y="793.1" font-family="'DejaVu Sans', 'Liberation Sans', sans-serif" font-size="12" font-weight="normal" font-style="normal" text-anchor="middle" fill="#000" >♂</text>
<text x="660.65" y="792.7" font-family="'DejaVu Sans', 'Liberation Sans', sans-serif" font-size="12" font-weight="normal" font-style="normal" text-anchor="middle" fill="#000" >♀</text>
<text x="646.65" y="813.7" font-family="'DejaVu Sans', 'Liberation Sans', sans-serif" font-size="12" font-weight="normal" font-style="normal" text-anchor="middle" fill="#000" >♂</text>
<text x="647.15" y="832.8" font-family="'Liberation Sans', sans-serif" font-size="8.3" font-weight="bold" font-style="italic" text-anchor="middle" fill="#000" >M</text>
<line x1="554.1" y1="753.1" x2="554.1" y2="832.2" stroke="#000" stroke-width="1.7" stroke-linecap="butt" />
<line x1="615.8" y1="753.1" x2="615.8" y2="832.2" stroke="#000" stroke-width="1.7" stroke-linecap="butt" />
<line x1="678.4" y1="753.1" x2="678.4" y2="832.2" stroke="#000" stroke-width="1.7" stroke-linecap="butt" />
<text x="49.6" y="792.2" font-family="'Liberation Sans', sans-serif" font-size="8.7" font-weight="bold" text-anchor="end">Scored F<tspan font-size="5.4" dy="1.6">2</tspan></text>
<text x="49.6" y="812.8" font-family="'Liberation Sans', sans-serif" font-size="8.7" font-weight="bold" text-anchor="end">Drive F<tspan font-size="5.4" dy="1.6">1</tspan></text>
<text x="50.2" y="832.0" font-family="'Liberation Sans', sans-serif" font-size="8.7" font-weight="bold" text-anchor="end">w<tspan font-size="5.7" dy="-3.2">GDe</tspan><tspan dy="3.2"> linkage</tspan></text>
<text x="86.2" y="850.3" font-family="'Liberation Sans', sans-serif" font-size="11.5" font-weight="bold" font-style="normal" text-anchor="middle" fill="#000" >−Cas9</text>
<text x="196" y="850.3" font-family="'Liberation Sans', sans-serif" font-size="11.5" font-weight="bold" font-style="italic" text-anchor="middle" fill="#000" >sds3</text>
<text x="336.1" y="850.3" font-family="'Liberation Sans', sans-serif" font-size="11.5" font-weight="bold" font-style="italic" text-anchor="middle" fill="#000" >bgcn</text>
<text x="475.5" y="850.3" font-family="'Liberation Sans', sans-serif" font-size="11.5" font-weight="bold" font-style="italic" text-anchor="middle" fill="#000" >nup50</text>
<text x="617.2" y="850.3" font-family="'Liberation Sans', sans-serif" font-size="11.5" font-weight="bold" text-anchor="middle">Li et al. <tspan font-style="italic">nup50</tspan></text>
</svg>
</body>
</html>
